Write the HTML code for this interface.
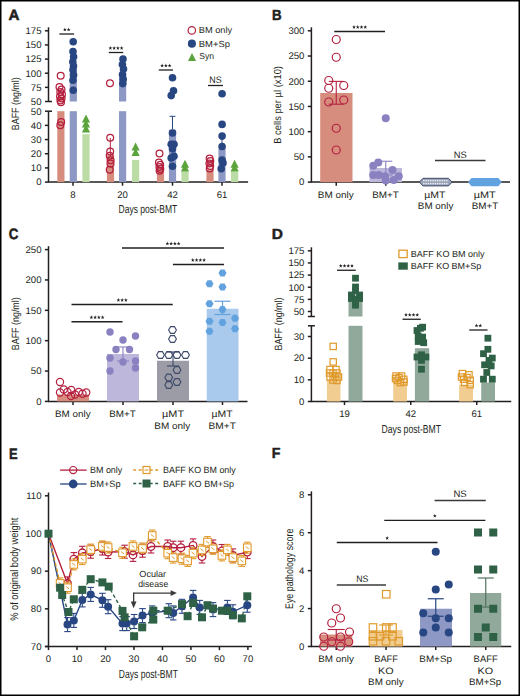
<!DOCTYPE html>
<html><head><meta charset="utf-8"><style>
html,body{margin:0;padding:0;background:#fff;}
body{width:520px;height:696px;overflow:hidden;}
svg{display:block;font-family:"Liberation Sans", sans-serif;text-rendering:geometricPrecision;}
.th{}
.bl{stroke:#231f20;stroke-width:0.5px;}
</style></head><body>
<svg width="520" height="696" viewBox="0 0 520 696">
<rect x="0" y="0" width="520" height="696" fill="#fff"/>
<text class="bl" x="8.42" y="20.20" font-size="14.8" fill="#231f20" font-weight="bold" textLength="10.98" lengthAdjust="spacingAndGlyphs">A</text>
<line x1="48.50" y1="27.30" x2="48.50" y2="101.50" stroke="#231f20" stroke-width="1.5"/>
<line x1="48.50" y1="111.20" x2="48.50" y2="182.10" stroke="#231f20" stroke-width="1.5"/>
<line x1="45.00" y1="101.50" x2="52.00" y2="101.50" stroke="#231f20" stroke-width="1.5"/>
<line x1="45.00" y1="111.20" x2="52.00" y2="111.20" stroke="#231f20" stroke-width="1.5"/>
<line x1="44.90" y1="30.80" x2="48.50" y2="30.80" stroke="#231f20" stroke-width="1.5"/>
<text class="th" x="41.50" y="34.10" font-size="9.6" text-anchor="end" fill="#231f20">175</text>
<line x1="44.90" y1="44.94" x2="48.50" y2="44.94" stroke="#231f20" stroke-width="1.5"/>
<text class="th" x="41.50" y="48.24" font-size="9.6" text-anchor="end" fill="#231f20">150</text>
<line x1="44.90" y1="59.08" x2="48.50" y2="59.08" stroke="#231f20" stroke-width="1.5"/>
<text class="th" x="41.50" y="62.38" font-size="9.6" text-anchor="end" fill="#231f20">125</text>
<line x1="44.90" y1="73.22" x2="48.50" y2="73.22" stroke="#231f20" stroke-width="1.5"/>
<text class="th" x="41.50" y="76.52" font-size="9.6" text-anchor="end" fill="#231f20">100</text>
<line x1="44.90" y1="87.36" x2="48.50" y2="87.36" stroke="#231f20" stroke-width="1.5"/>
<text class="th" x="41.50" y="90.66" font-size="9.6" text-anchor="end" fill="#231f20">75</text>
<line x1="48.50" y1="101.50" x2="48.50" y2="101.50" stroke="#231f20" stroke-width="1.5"/>
<text class="th" x="41.50" y="104.80" font-size="9.6" text-anchor="end" fill="#231f20">50</text>
<line x1="44.90" y1="125.38" x2="48.50" y2="125.38" stroke="#231f20" stroke-width="1.5"/>
<text class="th" x="41.50" y="128.68" font-size="9.6" text-anchor="end" fill="#231f20">40</text>
<line x1="44.90" y1="139.56" x2="48.50" y2="139.56" stroke="#231f20" stroke-width="1.5"/>
<text class="th" x="41.50" y="142.86" font-size="9.6" text-anchor="end" fill="#231f20">30</text>
<line x1="44.90" y1="153.74" x2="48.50" y2="153.74" stroke="#231f20" stroke-width="1.5"/>
<text class="th" x="41.50" y="157.04" font-size="9.6" text-anchor="end" fill="#231f20">20</text>
<line x1="44.90" y1="167.92" x2="48.50" y2="167.92" stroke="#231f20" stroke-width="1.5"/>
<text class="th" x="41.50" y="171.22" font-size="9.6" text-anchor="end" fill="#231f20">10</text>
<line x1="44.90" y1="182.10" x2="48.50" y2="182.10" stroke="#231f20" stroke-width="1.5"/>
<text class="th" x="41.50" y="185.40" font-size="9.6" text-anchor="end" fill="#231f20">0</text>
<line x1="48.50" y1="111.20" x2="48.50" y2="111.20" stroke="#231f20" stroke-width="1.5"/>
<text class="th" x="41.50" y="114.50" font-size="9.6" text-anchor="end" fill="#231f20">50</text>
<line x1="47.90" y1="182.10" x2="248.10" y2="182.10" stroke="#231f20" stroke-width="1.5"/>
<text class="th" x="19.20" y="130.23" font-size="10.5" fill="#231f20" textLength="52.98" lengthAdjust="spacingAndGlyphs" transform="rotate(-90 19.20 130.23)">BAFF (ng/ml)</text>
<line x1="73.00" y1="182.10" x2="73.00" y2="185.70" stroke="#231f20" stroke-width="1.5"/>
<text class="th" x="73.00" y="197.50" font-size="9.6" text-anchor="middle" fill="#231f20">8</text>
<line x1="122.50" y1="182.10" x2="122.50" y2="185.70" stroke="#231f20" stroke-width="1.5"/>
<text class="th" x="122.50" y="197.50" font-size="9.6" text-anchor="middle" fill="#231f20">20</text>
<line x1="172.50" y1="182.10" x2="172.50" y2="185.70" stroke="#231f20" stroke-width="1.5"/>
<text class="th" x="172.50" y="197.50" font-size="9.6" text-anchor="middle" fill="#231f20">42</text>
<line x1="222.00" y1="182.10" x2="222.00" y2="185.70" stroke="#231f20" stroke-width="1.5"/>
<text class="th" x="222.00" y="197.50" font-size="9.6" text-anchor="middle" fill="#231f20">61</text>
<text class="th" x="118.55" y="213.00" font-size="11.6" fill="#231f20" textLength="58.65" lengthAdjust="spacingAndGlyphs">Days post-BMT</text>
<rect x="57.30" y="96.98" width="7.20" height="4.52" fill="#d68d7e" stroke="none" stroke-width="1"/>
<rect x="57.30" y="111.20" width="7.20" height="70.90" fill="#d68d7e" stroke="none" stroke-width="1"/>
<rect x="69.70" y="70.39" width="7.20" height="31.11" fill="#8d98c4" stroke="none" stroke-width="1"/>
<rect x="69.70" y="111.20" width="7.20" height="70.90" fill="#8d98c4" stroke="none" stroke-width="1"/>
<rect x="82.40" y="134.17" width="7.20" height="47.93" fill="#bcdca6" stroke="none" stroke-width="1"/>
<rect x="106.90" y="155.16" width="7.20" height="26.94" fill="#d68d7e" stroke="none" stroke-width="1"/>
<rect x="119.00" y="73.22" width="7.20" height="28.28" fill="#8d98c4" stroke="none" stroke-width="1"/>
<rect x="119.00" y="111.20" width="7.20" height="70.90" fill="#8d98c4" stroke="none" stroke-width="1"/>
<rect x="132.00" y="159.98" width="7.20" height="22.12" fill="#bcdca6" stroke="none" stroke-width="1"/>
<rect x="156.90" y="167.92" width="7.20" height="14.18" fill="#d68d7e" stroke="none" stroke-width="1"/>
<rect x="168.90" y="129.63" width="7.20" height="52.47" fill="#8d98c4" stroke="none" stroke-width="1"/>
<rect x="181.40" y="171.47" width="7.20" height="10.63" fill="#bcdca6" stroke="none" stroke-width="1"/>
<rect x="206.40" y="169.34" width="7.20" height="12.76" fill="#d68d7e" stroke="none" stroke-width="1"/>
<rect x="218.40" y="148.78" width="7.20" height="33.32" fill="#8d98c4" stroke="none" stroke-width="1"/>
<rect x="231.00" y="171.47" width="7.20" height="10.63" fill="#bcdca6" stroke="none" stroke-width="1"/>
<line x1="172.50" y1="116.30" x2="172.50" y2="129.20" stroke="#284682" stroke-width="1.0"/>
<line x1="169.50" y1="116.30" x2="175.50" y2="116.30" stroke="#284682" stroke-width="1.0"/>
<line x1="110.30" y1="138.00" x2="110.30" y2="156.00" stroke="#b5203f" stroke-width="1.0"/>
<line x1="110.30" y1="138.00" x2="110.30" y2="138.00" stroke="#b5203f" stroke-width="1.0"/>
<line x1="222.00" y1="139.00" x2="222.00" y2="150.00" stroke="#284682" stroke-width="1.0"/>
<line x1="220.00" y1="139.00" x2="224.00" y2="139.00" stroke="#284682" stroke-width="1.0"/>
<circle cx="60.70" cy="75.80" r="3.4" fill="white" stroke="#b5203f" stroke-width="1.25"/>
<circle cx="59.50" cy="87.10" r="3.4" fill="none" stroke="#b5203f" stroke-width="1.25"/>
<circle cx="61.50" cy="89.50" r="3.4" fill="none" stroke="#b5203f" stroke-width="1.25"/>
<circle cx="60.30" cy="92.00" r="3.4" fill="none" stroke="#b5203f" stroke-width="1.25"/>
<circle cx="62.00" cy="94.50" r="3.4" fill="none" stroke="#b5203f" stroke-width="1.25"/>
<circle cx="60.00" cy="96.50" r="3.4" fill="none" stroke="#b5203f" stroke-width="1.25"/>
<circle cx="61.60" cy="98.50" r="3.4" fill="none" stroke="#b5203f" stroke-width="1.25"/>
<circle cx="60.40" cy="100.50" r="3.4" fill="none" stroke="#b5203f" stroke-width="1.25"/>
<circle cx="61.00" cy="102.30" r="3.4" fill="none" stroke="#b5203f" stroke-width="1.25"/>
<circle cx="61.20" cy="122.00" r="3.4" fill="none" stroke="#b5203f" stroke-width="1.25"/>
<circle cx="60.30" cy="125.30" r="3.4" fill="none" stroke="#b5203f" stroke-width="1.25"/>
<circle cx="73.20" cy="41.80" r="3.8" fill="#284682" stroke="none" stroke-width="1.1"/>
<circle cx="73.00" cy="51.60" r="3.8" fill="#284682" stroke="none" stroke-width="1.1"/>
<circle cx="73.60" cy="56.80" r="3.8" fill="#284682" stroke="none" stroke-width="1.1"/>
<circle cx="72.80" cy="61.70" r="3.8" fill="#284682" stroke="none" stroke-width="1.1"/>
<circle cx="73.50" cy="66.00" r="3.8" fill="#284682" stroke="none" stroke-width="1.1"/>
<circle cx="73.00" cy="69.80" r="3.8" fill="#284682" stroke="none" stroke-width="1.1"/>
<circle cx="73.60" cy="75.00" r="3.8" fill="#284682" stroke="none" stroke-width="1.1"/>
<circle cx="73.00" cy="80.20" r="3.8" fill="#284682" stroke="none" stroke-width="1.1"/>
<circle cx="73.20" cy="90.20" r="3.8" fill="#284682" stroke="none" stroke-width="1.1"/>
<polygon points="86.00,114.50 90.10,122.50 81.90,122.50" fill="#5ba43c"/>
<polygon points="86.00,119.50 90.10,127.50 81.90,127.50" fill="#5ba43c"/>
<polygon points="86.00,124.50 90.10,132.50 81.90,132.50" fill="#5ba43c"/>
<circle cx="110.00" cy="83.25" r="3.4" fill="none" stroke="#b5203f" stroke-width="1.25"/>
<circle cx="110.20" cy="137.70" r="3.4" fill="none" stroke="#b5203f" stroke-width="1.25"/>
<circle cx="110.20" cy="151.50" r="3.4" fill="none" stroke="#b5203f" stroke-width="1.25"/>
<circle cx="109.70" cy="155.80" r="3.4" fill="none" stroke="#b5203f" stroke-width="1.25"/>
<circle cx="110.60" cy="160.20" r="3.4" fill="none" stroke="#b5203f" stroke-width="1.25"/>
<circle cx="110.50" cy="163.60" r="3.4" fill="none" stroke="#b5203f" stroke-width="1.25"/>
<circle cx="109.70" cy="169.70" r="3.4" fill="none" stroke="#b5203f" stroke-width="1.25"/>
<circle cx="123.00" cy="59.00" r="3.8" fill="#284682" stroke="none" stroke-width="1.1"/>
<circle cx="122.40" cy="64.60" r="3.8" fill="#284682" stroke="none" stroke-width="1.1"/>
<circle cx="123.50" cy="69.00" r="3.8" fill="#284682" stroke="none" stroke-width="1.1"/>
<circle cx="122.50" cy="74.60" r="3.8" fill="#284682" stroke="none" stroke-width="1.1"/>
<circle cx="123.20" cy="79.30" r="3.8" fill="#284682" stroke="none" stroke-width="1.1"/>
<circle cx="122.80" cy="83.60" r="3.8" fill="#284682" stroke="none" stroke-width="1.1"/>
<polygon points="135.60,142.50 139.70,150.50 131.50,150.50" fill="#5ba43c"/>
<polygon points="135.60,148.00 139.70,156.00 131.50,156.00" fill="#5ba43c"/>
<circle cx="159.50" cy="153.50" r="3.4" fill="none" stroke="#b5203f" stroke-width="1.25"/>
<circle cx="158.90" cy="162.50" r="3.4" fill="none" stroke="#b5203f" stroke-width="1.25"/>
<circle cx="160.20" cy="164.80" r="3.4" fill="none" stroke="#b5203f" stroke-width="1.25"/>
<circle cx="159.40" cy="167.00" r="3.4" fill="none" stroke="#b5203f" stroke-width="1.25"/>
<circle cx="160.30" cy="169.00" r="3.4" fill="none" stroke="#b5203f" stroke-width="1.25"/>
<circle cx="159.60" cy="170.80" r="3.4" fill="none" stroke="#b5203f" stroke-width="1.25"/>
<circle cx="172.50" cy="77.70" r="3.8" fill="#284682" stroke="none" stroke-width="1.1"/>
<circle cx="173.50" cy="90.80" r="3.8" fill="#284682" stroke="none" stroke-width="1.1"/>
<circle cx="171.20" cy="95.60" r="3.8" fill="#284682" stroke="none" stroke-width="1.1"/>
<circle cx="172.50" cy="133.00" r="3.8" fill="#284682" stroke="none" stroke-width="1.1"/>
<circle cx="171.20" cy="144.20" r="3.8" fill="#284682" stroke="none" stroke-width="1.1"/>
<circle cx="174.00" cy="144.20" r="3.8" fill="#284682" stroke="none" stroke-width="1.1"/>
<circle cx="172.50" cy="148.80" r="3.8" fill="#284682" stroke="none" stroke-width="1.1"/>
<circle cx="171.20" cy="158.00" r="3.8" fill="#284682" stroke="none" stroke-width="1.1"/>
<circle cx="174.00" cy="156.20" r="3.8" fill="#284682" stroke="none" stroke-width="1.1"/>
<circle cx="172.50" cy="166.20" r="3.8" fill="#284682" stroke="none" stroke-width="1.1"/>
<polygon points="185.00,159.80 189.10,167.80 180.90,167.80" fill="#5ba43c"/>
<polygon points="185.00,163.50 189.10,171.50 180.90,171.50" fill="#5ba43c"/>
<circle cx="209.60" cy="158.50" r="3.4" fill="none" stroke="#b5203f" stroke-width="1.25"/>
<circle cx="210.30" cy="161.00" r="3.4" fill="none" stroke="#b5203f" stroke-width="1.25"/>
<circle cx="209.40" cy="163.50" r="3.4" fill="none" stroke="#b5203f" stroke-width="1.25"/>
<circle cx="210.20" cy="166.00" r="3.4" fill="none" stroke="#b5203f" stroke-width="1.25"/>
<circle cx="209.70" cy="168.50" r="3.4" fill="none" stroke="#b5203f" stroke-width="1.25"/>
<circle cx="222.10" cy="93.70" r="3.8" fill="#284682" stroke="none" stroke-width="1.1"/>
<circle cx="222.10" cy="124.40" r="3.8" fill="#284682" stroke="none" stroke-width="1.1"/>
<circle cx="222.10" cy="136.00" r="3.8" fill="#284682" stroke="none" stroke-width="1.1"/>
<circle cx="222.10" cy="146.50" r="3.8" fill="#284682" stroke="none" stroke-width="1.1"/>
<circle cx="222.10" cy="160.00" r="3.8" fill="#284682" stroke="none" stroke-width="1.1"/>
<circle cx="223.00" cy="162.90" r="3.8" fill="#284682" stroke="none" stroke-width="1.1"/>
<circle cx="221.20" cy="168.70" r="3.8" fill="#284682" stroke="none" stroke-width="1.1"/>
<polygon points="234.60,159.80 238.70,167.80 230.50,167.80" fill="#5ba43c"/>
<polygon points="234.60,163.50 238.70,171.50 230.50,171.50" fill="#5ba43c"/>
<line x1="59.40" y1="34.00" x2="74.10" y2="34.00" stroke="#231f20" stroke-width="1.3"/>
<polygon points="64.88,27.60 65.37,28.92 66.78,28.98 65.67,29.86 66.05,31.22 64.88,30.44 63.70,31.22 64.08,29.86 62.97,28.98 64.38,28.92" fill="#231f20"/>
<polygon points="68.62,27.60 69.12,28.92 70.53,28.98 69.42,29.86 69.80,31.22 68.62,30.44 67.45,31.22 67.83,29.86 66.72,28.98 68.13,28.92" fill="#231f20"/>
<line x1="108.75" y1="52.50" x2="123.25" y2="52.50" stroke="#231f20" stroke-width="1.3"/>
<polygon points="110.38,46.10 110.87,47.42 112.28,47.48 111.17,48.36 111.55,49.72 110.38,48.94 109.20,49.72 109.58,48.36 108.47,47.48 109.88,47.42" fill="#231f20"/>
<polygon points="114.12,46.10 114.62,47.42 116.03,47.48 114.92,48.36 115.30,49.72 114.12,48.94 112.95,49.72 113.33,48.36 112.22,47.48 113.63,47.42" fill="#231f20"/>
<polygon points="117.88,46.10 118.37,47.42 119.78,47.48 118.67,48.36 119.05,49.72 117.88,48.94 116.70,49.72 117.08,48.36 115.97,47.48 117.38,47.42" fill="#231f20"/>
<polygon points="121.62,46.10 122.12,47.42 123.53,47.48 122.42,48.36 122.80,49.72 121.62,48.94 120.45,49.72 120.83,48.36 119.72,47.48 121.13,47.42" fill="#231f20"/>
<line x1="158.75" y1="70.00" x2="173.00" y2="70.00" stroke="#231f20" stroke-width="1.3"/>
<polygon points="162.12,63.60 162.62,64.92 164.03,64.98 162.92,65.86 163.30,67.22 162.12,66.44 160.95,67.22 161.33,65.86 160.22,64.98 161.63,64.92" fill="#231f20"/>
<polygon points="165.88,63.60 166.37,64.92 167.78,64.98 166.67,65.86 167.05,67.22 165.88,66.44 164.70,67.22 165.08,65.86 163.97,64.98 165.38,64.92" fill="#231f20"/>
<polygon points="169.62,63.60 170.12,64.92 171.53,64.98 170.42,65.86 170.80,67.22 169.62,66.44 168.45,67.22 168.83,65.86 167.72,64.98 169.13,64.92" fill="#231f20"/>
<line x1="208.00" y1="85.50" x2="223.00" y2="85.50" stroke="#231f20" stroke-width="1.3"/>
<text class="th" x="209.27" y="83.00" font-size="9.4" fill="#231f20" textLength="12.39" lengthAdjust="spacingAndGlyphs">NS</text>
<circle cx="191.80" cy="30.40" r="3.7" fill="none" stroke="#b5203f" stroke-width="1.2"/>
<text class="th" x="198.84" y="33.00" font-size="8.8" fill="#231f20" textLength="33.28" lengthAdjust="spacingAndGlyphs">BM only</text>
<circle cx="191.90" cy="43.65" r="4.05" fill="#284682" stroke="none" stroke-width="1.1"/>
<text class="th" x="198.83" y="46.50" font-size="8.8" fill="#231f20" textLength="31.17" lengthAdjust="spacingAndGlyphs">BM+Sp</text>
<polygon points="192,52.9 196.1,61 188,61" fill="#5ba43c"/>
<text class="th" x="199.21" y="59.20" font-size="8.8" fill="#231f20" textLength="14.75" lengthAdjust="spacingAndGlyphs">Syn</text>
<text class="bl" x="271.91" y="19.90" font-size="14.7" fill="#231f20" font-weight="bold" textLength="9.59" lengthAdjust="spacingAndGlyphs">B</text>
<line x1="311.40" y1="27.30" x2="311.40" y2="182.10" stroke="#231f20" stroke-width="1.5"/>
<line x1="307.80" y1="30.80" x2="311.40" y2="30.80" stroke="#231f20" stroke-width="1.5"/>
<text class="th" x="304.40" y="34.10" font-size="9.6" text-anchor="end" fill="#231f20">300</text>
<line x1="307.80" y1="56.02" x2="311.40" y2="56.02" stroke="#231f20" stroke-width="1.5"/>
<text class="th" x="304.40" y="59.32" font-size="9.6" text-anchor="end" fill="#231f20">250</text>
<line x1="307.80" y1="81.23" x2="311.40" y2="81.23" stroke="#231f20" stroke-width="1.5"/>
<text class="th" x="304.40" y="84.54" font-size="9.6" text-anchor="end" fill="#231f20">200</text>
<line x1="307.80" y1="106.45" x2="311.40" y2="106.45" stroke="#231f20" stroke-width="1.5"/>
<text class="th" x="304.40" y="109.75" font-size="9.6" text-anchor="end" fill="#231f20">150</text>
<line x1="307.80" y1="131.67" x2="311.40" y2="131.67" stroke="#231f20" stroke-width="1.5"/>
<text class="th" x="304.40" y="134.97" font-size="9.6" text-anchor="end" fill="#231f20">100</text>
<line x1="307.80" y1="156.88" x2="311.40" y2="156.88" stroke="#231f20" stroke-width="1.5"/>
<text class="th" x="304.40" y="160.19" font-size="9.6" text-anchor="end" fill="#231f20">50</text>
<line x1="307.80" y1="182.10" x2="311.40" y2="182.10" stroke="#231f20" stroke-width="1.5"/>
<text class="th" x="304.40" y="185.40" font-size="9.6" text-anchor="end" fill="#231f20">0</text>
<line x1="310.80" y1="182.10" x2="510.00" y2="182.10" stroke="#231f20" stroke-width="1.5"/>
<text class="th" x="281.50" y="143.77" font-size="10.2" fill="#231f20" textLength="77.75" lengthAdjust="spacingAndGlyphs" transform="rotate(-90 281.50 143.77)">B cells per µl (x10)</text>
<line x1="336.25" y1="182.10" x2="336.25" y2="185.70" stroke="#231f20" stroke-width="1.5"/>
<line x1="385.75" y1="182.10" x2="385.75" y2="185.70" stroke="#231f20" stroke-width="1.5"/>
<line x1="435.50" y1="182.10" x2="435.50" y2="185.70" stroke="#231f20" stroke-width="1.5"/>
<line x1="485.25" y1="182.10" x2="485.25" y2="185.70" stroke="#231f20" stroke-width="1.5"/>
<text class="th" x="317.88" y="197.80" font-size="9.3" fill="#231f20" textLength="35.94" lengthAdjust="spacingAndGlyphs">BM only</text>
<text class="th" x="372.29" y="197.80" font-size="9.3" fill="#231f20" textLength="26.64" lengthAdjust="spacingAndGlyphs">BM+T</text>
<text class="th" x="424.29" y="197.80" font-size="9.3" fill="#231f20" textLength="21.15" lengthAdjust="spacingAndGlyphs">µMT</text>
<text class="th" x="417.89" y="209.10" font-size="9.3" fill="#231f20" textLength="35.53" lengthAdjust="spacingAndGlyphs">BM only</text>
<text class="th" x="473.66" y="197.80" font-size="9.3" fill="#231f20" textLength="21.99" lengthAdjust="spacingAndGlyphs">µMT</text>
<text class="th" x="471.79" y="209.10" font-size="9.3" fill="#231f20" textLength="26.64" lengthAdjust="spacingAndGlyphs">BM+T</text>
<rect x="320.20" y="93.00" width="32.30" height="89.10" fill="#d68d7e" stroke="none" stroke-width="1"/>
<line x1="336.25" y1="81.40" x2="336.25" y2="104.20" stroke="#b5203f" stroke-width="1.1"/>
<line x1="328.75" y1="81.40" x2="343.75" y2="81.40" stroke="#b5203f" stroke-width="1.1"/>
<line x1="328.75" y1="104.20" x2="343.75" y2="104.20" stroke="#b5203f" stroke-width="1.1"/>
<circle cx="336.25" cy="39.50" r="4.0" fill="none" stroke="#b5203f" stroke-width="1.2"/>
<circle cx="336.25" cy="57.25" r="4.0" fill="none" stroke="#b5203f" stroke-width="1.2"/>
<circle cx="328.75" cy="80.50" r="4.0" fill="none" stroke="#b5203f" stroke-width="1.2"/>
<circle cx="328.75" cy="88.25" r="4.0" fill="none" stroke="#b5203f" stroke-width="1.2"/>
<circle cx="343.75" cy="85.50" r="4.0" fill="none" stroke="#b5203f" stroke-width="1.2"/>
<circle cx="328.75" cy="102.00" r="4.0" fill="none" stroke="#b5203f" stroke-width="1.2"/>
<circle cx="343.75" cy="100.00" r="4.0" fill="none" stroke="#b5203f" stroke-width="1.2"/>
<circle cx="336.25" cy="128.25" r="4.0" fill="none" stroke="#b5203f" stroke-width="1.2"/>
<circle cx="336.25" cy="150.00" r="4.0" fill="none" stroke="#b5203f" stroke-width="1.2"/>
<rect x="369.50" y="168.00" width="32.50" height="14.10" fill="#bcb7db" stroke="none" stroke-width="1"/>
<line x1="385.75" y1="161.25" x2="385.75" y2="175.00" stroke="#8a81c1" stroke-width="1.1"/>
<line x1="379.25" y1="161.25" x2="392.25" y2="161.25" stroke="#8a81c1" stroke-width="1.1"/>
<line x1="379.25" y1="175.00" x2="392.25" y2="175.00" stroke="#8a81c1" stroke-width="1.1"/>
<circle cx="385.75" cy="118.25" r="4.0" fill="#8a81c1" stroke="none" stroke-width="1.1"/>
<circle cx="373.25" cy="165.75" r="4.0" fill="#8a81c1" stroke="none" stroke-width="1.1"/>
<circle cx="378.25" cy="162.50" r="4.0" fill="#8a81c1" stroke="none" stroke-width="1.1"/>
<circle cx="373.25" cy="175.00" r="4.0" fill="#8a81c1" stroke="none" stroke-width="1.1"/>
<circle cx="378.75" cy="175.00" r="4.0" fill="#8a81c1" stroke="none" stroke-width="1.1"/>
<circle cx="385.00" cy="176.25" r="4.0" fill="#8a81c1" stroke="none" stroke-width="1.1"/>
<circle cx="392.50" cy="170.00" r="4.0" fill="#8a81c1" stroke="none" stroke-width="1.1"/>
<circle cx="393.75" cy="180.00" r="4.0" fill="#8a81c1" stroke="none" stroke-width="1.1"/>
<circle cx="398.75" cy="176.25" r="4.0" fill="#8a81c1" stroke="none" stroke-width="1.1"/>
<circle cx="385.75" cy="180.50" r="4.0" fill="#8a81c1" stroke="none" stroke-width="1.1"/>
<polygon points="419.3,182.1 423,178.3 448.5,178.3 452.1,182.1 448.5,185.9 423,185.9" fill="#9aa2b8" stroke="#3e4a6a" stroke-width="1.0"/>
<rect x="423.20" y="179.90" width="1.30" height="1.40" fill="#f4f5f8" stroke="none" stroke-width="1"/>
<rect x="423.20" y="182.90" width="1.30" height="1.40" fill="#f4f5f8" stroke="none" stroke-width="1"/>
<rect x="425.50" y="179.90" width="1.30" height="1.40" fill="#f4f5f8" stroke="none" stroke-width="1"/>
<rect x="425.50" y="182.90" width="1.30" height="1.40" fill="#f4f5f8" stroke="none" stroke-width="1"/>
<rect x="427.80" y="179.90" width="1.30" height="1.40" fill="#f4f5f8" stroke="none" stroke-width="1"/>
<rect x="427.80" y="182.90" width="1.30" height="1.40" fill="#f4f5f8" stroke="none" stroke-width="1"/>
<rect x="430.10" y="179.90" width="1.30" height="1.40" fill="#f4f5f8" stroke="none" stroke-width="1"/>
<rect x="430.10" y="182.90" width="1.30" height="1.40" fill="#f4f5f8" stroke="none" stroke-width="1"/>
<rect x="432.40" y="179.90" width="1.30" height="1.40" fill="#f4f5f8" stroke="none" stroke-width="1"/>
<rect x="432.40" y="182.90" width="1.30" height="1.40" fill="#f4f5f8" stroke="none" stroke-width="1"/>
<rect x="434.70" y="179.90" width="1.30" height="1.40" fill="#f4f5f8" stroke="none" stroke-width="1"/>
<rect x="434.70" y="182.90" width="1.30" height="1.40" fill="#f4f5f8" stroke="none" stroke-width="1"/>
<rect x="437.00" y="179.90" width="1.30" height="1.40" fill="#f4f5f8" stroke="none" stroke-width="1"/>
<rect x="437.00" y="182.90" width="1.30" height="1.40" fill="#f4f5f8" stroke="none" stroke-width="1"/>
<rect x="439.30" y="179.90" width="1.30" height="1.40" fill="#f4f5f8" stroke="none" stroke-width="1"/>
<rect x="439.30" y="182.90" width="1.30" height="1.40" fill="#f4f5f8" stroke="none" stroke-width="1"/>
<rect x="441.60" y="179.90" width="1.30" height="1.40" fill="#f4f5f8" stroke="none" stroke-width="1"/>
<rect x="441.60" y="182.90" width="1.30" height="1.40" fill="#f4f5f8" stroke="none" stroke-width="1"/>
<rect x="443.90" y="179.90" width="1.30" height="1.40" fill="#f4f5f8" stroke="none" stroke-width="1"/>
<rect x="443.90" y="182.90" width="1.30" height="1.40" fill="#f4f5f8" stroke="none" stroke-width="1"/>
<rect x="446.20" y="179.90" width="1.30" height="1.40" fill="#f4f5f8" stroke="none" stroke-width="1"/>
<rect x="446.20" y="182.90" width="1.30" height="1.40" fill="#f4f5f8" stroke="none" stroke-width="1"/>
<polygon points="468,182.1 471.5,178 498.3,178 501.8,182.1 498.3,186.2 471.5,186.2" fill="#62a2de"/>
<line x1="435.00" y1="160.50" x2="485.50" y2="160.50" stroke="#3a3a3a" stroke-width="1.3"/>
<text class="th" x="453.74" y="158.00" font-size="9.4" fill="#231f20" textLength="12.94" lengthAdjust="spacingAndGlyphs">NS</text>
<line x1="334.25" y1="31.50" x2="385.00" y2="31.50" stroke="#231f20" stroke-width="1.3"/>
<polygon points="354.00,25.10 354.49,26.42 355.90,26.48 354.80,27.36 355.18,28.72 354.00,27.94 352.82,28.72 353.20,27.36 352.10,26.48 353.51,26.42" fill="#231f20"/>
<polygon points="357.75,25.10 358.24,26.42 359.65,26.48 358.55,27.36 358.93,28.72 357.75,27.94 356.57,28.72 356.95,27.36 355.85,26.48 357.26,26.42" fill="#231f20"/>
<polygon points="361.50,25.10 361.99,26.42 363.40,26.48 362.30,27.36 362.68,28.72 361.50,27.94 360.32,28.72 360.70,27.36 359.60,26.48 361.01,26.42" fill="#231f20"/>
<polygon points="365.25,25.10 365.74,26.42 367.15,26.48 366.05,27.36 366.43,28.72 365.25,27.94 364.07,28.72 364.45,27.36 363.35,26.48 364.76,26.42" fill="#231f20"/>
<text class="bl" x="8.65" y="239.45" font-size="15.1" fill="#231f20" font-weight="bold" textLength="9.61" lengthAdjust="spacingAndGlyphs">C</text>
<line x1="48.50" y1="246.20" x2="48.50" y2="401.40" stroke="#231f20" stroke-width="1.5"/>
<line x1="44.90" y1="249.60" x2="48.50" y2="249.60" stroke="#231f20" stroke-width="1.5"/>
<text class="th" x="41.50" y="252.90" font-size="9.6" text-anchor="end" fill="#231f20">250</text>
<line x1="44.90" y1="279.96" x2="48.50" y2="279.96" stroke="#231f20" stroke-width="1.5"/>
<text class="th" x="41.50" y="283.26" font-size="9.6" text-anchor="end" fill="#231f20">200</text>
<line x1="44.90" y1="310.32" x2="48.50" y2="310.32" stroke="#231f20" stroke-width="1.5"/>
<text class="th" x="41.50" y="313.62" font-size="9.6" text-anchor="end" fill="#231f20">150</text>
<line x1="44.90" y1="340.68" x2="48.50" y2="340.68" stroke="#231f20" stroke-width="1.5"/>
<text class="th" x="41.50" y="343.98" font-size="9.6" text-anchor="end" fill="#231f20">100</text>
<line x1="44.90" y1="371.04" x2="48.50" y2="371.04" stroke="#231f20" stroke-width="1.5"/>
<text class="th" x="41.50" y="374.34" font-size="9.6" text-anchor="end" fill="#231f20">50</text>
<line x1="44.90" y1="401.40" x2="48.50" y2="401.40" stroke="#231f20" stroke-width="1.5"/>
<text class="th" x="41.50" y="404.70" font-size="9.6" text-anchor="end" fill="#231f20">0</text>
<line x1="47.90" y1="401.40" x2="247.50" y2="401.40" stroke="#231f20" stroke-width="1.5"/>
<text class="th" x="19.20" y="350.23" font-size="10.5" fill="#231f20" textLength="52.98" lengthAdjust="spacingAndGlyphs" transform="rotate(-90 19.20 350.23)">BAFF (ng/ml)</text>
<line x1="73.00" y1="401.40" x2="73.00" y2="405.00" stroke="#231f20" stroke-width="1.5"/>
<line x1="123.00" y1="401.40" x2="123.00" y2="405.00" stroke="#231f20" stroke-width="1.5"/>
<line x1="173.00" y1="401.40" x2="173.00" y2="405.00" stroke="#231f20" stroke-width="1.5"/>
<line x1="222.50" y1="401.40" x2="222.50" y2="405.00" stroke="#231f20" stroke-width="1.5"/>
<text class="th" x="55.04" y="417.20" font-size="9.3" fill="#231f20" textLength="35.58" lengthAdjust="spacingAndGlyphs">BM only</text>
<text class="th" x="109.19" y="417.20" font-size="9.3" fill="#231f20" textLength="26.64" lengthAdjust="spacingAndGlyphs">BM+T</text>
<text class="th" x="162.06" y="417.20" font-size="9.3" fill="#231f20" textLength="21.99" lengthAdjust="spacingAndGlyphs">µMT</text>
<text class="th" x="154.28" y="428.80" font-size="9.3" fill="#231f20" textLength="35.94" lengthAdjust="spacingAndGlyphs">BM only</text>
<text class="th" x="211.49" y="417.20" font-size="9.3" fill="#231f20" textLength="21.05" lengthAdjust="spacingAndGlyphs">µMT</text>
<text class="th" x="208.57" y="428.80" font-size="9.3" fill="#231f20" textLength="27.26" lengthAdjust="spacingAndGlyphs">BM+T</text>
<rect x="57.00" y="394.50" width="32.00" height="6.90" fill="#d68d7e" stroke="none" stroke-width="1"/>
<circle cx="60.00" cy="382.00" r="3.6" fill="none" stroke="#b5203f" stroke-width="1.2"/>
<circle cx="63.75" cy="389.50" r="3.6" fill="none" stroke="#b5203f" stroke-width="1.2"/>
<circle cx="60.00" cy="392.50" r="3.6" fill="none" stroke="#b5203f" stroke-width="1.2"/>
<circle cx="67.50" cy="392.00" r="3.6" fill="none" stroke="#b5203f" stroke-width="1.2"/>
<circle cx="71.25" cy="390.00" r="3.6" fill="none" stroke="#b5203f" stroke-width="1.2"/>
<circle cx="75.00" cy="394.50" r="3.6" fill="none" stroke="#b5203f" stroke-width="1.2"/>
<circle cx="78.75" cy="392.00" r="3.6" fill="none" stroke="#b5203f" stroke-width="1.2"/>
<circle cx="82.50" cy="393.75" r="3.6" fill="none" stroke="#b5203f" stroke-width="1.2"/>
<circle cx="86.25" cy="392.50" r="3.6" fill="none" stroke="#b5203f" stroke-width="1.2"/>
<circle cx="71.00" cy="396.00" r="3.6" fill="none" stroke="#b5203f" stroke-width="1.2"/>
<rect x="107.00" y="354.00" width="32.00" height="47.40" fill="#bcb7db" stroke="none" stroke-width="1"/>
<line x1="123.00" y1="347.00" x2="123.00" y2="361.00" stroke="#8a81c1" stroke-width="1.1"/>
<line x1="117.00" y1="347.00" x2="129.00" y2="347.00" stroke="#8a81c1" stroke-width="1.1"/>
<line x1="117.00" y1="361.00" x2="129.00" y2="361.00" stroke="#8a81c1" stroke-width="1.1"/>
<circle cx="110.00" cy="332.00" r="3.7" fill="#8a81c1" stroke="none" stroke-width="1.1"/>
<circle cx="135.50" cy="336.00" r="3.7" fill="#8a81c1" stroke="none" stroke-width="1.1"/>
<circle cx="123.00" cy="340.00" r="3.7" fill="#8a81c1" stroke="none" stroke-width="1.1"/>
<circle cx="116.00" cy="349.50" r="3.7" fill="#8a81c1" stroke="none" stroke-width="1.1"/>
<circle cx="129.50" cy="349.50" r="3.7" fill="#8a81c1" stroke="none" stroke-width="1.1"/>
<circle cx="110.00" cy="358.00" r="3.7" fill="#8a81c1" stroke="none" stroke-width="1.1"/>
<circle cx="123.00" cy="362.00" r="3.7" fill="#8a81c1" stroke="none" stroke-width="1.1"/>
<circle cx="135.50" cy="361.00" r="3.7" fill="#8a81c1" stroke="none" stroke-width="1.1"/>
<circle cx="110.00" cy="371.00" r="3.7" fill="#8a81c1" stroke="none" stroke-width="1.1"/>
<circle cx="135.50" cy="368.00" r="3.7" fill="#8a81c1" stroke="none" stroke-width="1.1"/>
<rect x="157.00" y="360.75" width="32.00" height="40.65" fill="#9c9ca6" stroke="none" stroke-width="1"/>
<line x1="173.00" y1="352.00" x2="173.00" y2="366.00" stroke="#3e4a6a" stroke-width="1.1"/>
<line x1="167.00" y1="352.00" x2="179.00" y2="352.00" stroke="#3e4a6a" stroke-width="1.1"/>
<line x1="167.00" y1="366.00" x2="179.00" y2="366.00" stroke="#3e4a6a" stroke-width="1.1"/>
<polygon points="176.40,330.00 174.45,333.38 170.55,333.38 168.60,330.00 170.55,326.62 174.45,326.62" fill="none" stroke="#3e4a6a" stroke-width="1.1"/>
<polygon points="176.40,339.00 174.45,342.38 170.55,342.38 168.60,339.00 170.55,335.62 174.45,335.62" fill="none" stroke="#3e4a6a" stroke-width="1.1"/>
<polygon points="164.40,355.00 162.45,358.38 158.55,358.38 156.60,355.00 158.55,351.62 162.45,351.62" fill="none" stroke="#3e4a6a" stroke-width="1.1"/>
<polygon points="172.65,355.00 170.70,358.38 166.80,358.38 164.85,355.00 166.80,351.62 170.70,351.62" fill="none" stroke="#3e4a6a" stroke-width="1.1"/>
<polygon points="180.90,355.00 178.95,358.38 175.05,358.38 173.10,355.00 175.05,351.62 178.95,351.62" fill="none" stroke="#3e4a6a" stroke-width="1.1"/>
<polygon points="189.40,355.00 187.45,358.38 183.55,358.38 181.60,355.00 183.55,351.62 187.45,351.62" fill="none" stroke="#3e4a6a" stroke-width="1.1"/>
<polygon points="180.90,370.00 178.95,373.38 175.05,373.38 173.10,370.00 175.05,366.62 178.95,366.62" fill="none" stroke="#3e4a6a" stroke-width="1.1"/>
<polygon points="172.65,377.50 170.70,380.88 166.80,380.88 164.85,377.50 166.80,374.12 170.70,374.12" fill="none" stroke="#3e4a6a" stroke-width="1.1"/>
<polygon points="172.65,385.00 170.70,388.38 166.80,388.38 164.85,385.00 166.80,381.62 170.70,381.62" fill="none" stroke="#3e4a6a" stroke-width="1.1"/>
<polygon points="180.90,382.00 178.95,385.38 175.05,385.38 173.10,382.00 175.05,378.62 178.95,378.62" fill="none" stroke="#3e4a6a" stroke-width="1.1"/>
<rect x="206.75" y="308.75" width="31.75" height="92.65" fill="#a9caec" stroke="none" stroke-width="1"/>
<line x1="222.50" y1="301.25" x2="222.50" y2="314.50" stroke="#62a2de" stroke-width="1.2"/>
<line x1="214.50" y1="301.25" x2="230.50" y2="301.25" stroke="#62a2de" stroke-width="1.2"/>
<line x1="214.50" y1="314.50" x2="230.50" y2="314.50" stroke="#62a2de" stroke-width="1.2"/>
<polygon points="226.50,273.00 224.50,276.46 220.50,276.46 218.50,273.00 220.50,269.54 224.50,269.54" fill="#62a2de" stroke="none" stroke-width="1"/>
<polygon points="213.50,283.75 211.50,287.21 207.50,287.21 205.50,283.75 207.50,280.29 211.50,280.29" fill="#62a2de" stroke="none" stroke-width="1"/>
<polygon points="226.50,287.00 224.50,290.46 220.50,290.46 218.50,287.00 220.50,283.54 224.50,283.54" fill="#62a2de" stroke="none" stroke-width="1"/>
<polygon points="213.50,303.75 211.50,307.21 207.50,307.21 205.50,303.75 207.50,300.29 211.50,300.29" fill="#62a2de" stroke="none" stroke-width="1"/>
<polygon points="226.50,309.50 224.50,312.96 220.50,312.96 218.50,309.50 220.50,306.04 224.50,306.04" fill="#62a2de" stroke="none" stroke-width="1"/>
<polygon points="213.50,321.25 211.50,324.71 207.50,324.71 205.50,321.25 207.50,317.79 211.50,317.79" fill="#62a2de" stroke="none" stroke-width="1"/>
<polygon points="226.50,322.50 224.50,325.96 220.50,325.96 218.50,322.50 220.50,319.04 224.50,319.04" fill="#62a2de" stroke="none" stroke-width="1"/>
<polygon points="239.00,318.25 237.00,321.71 233.00,321.71 231.00,318.25 233.00,314.79 237.00,314.79" fill="#62a2de" stroke="none" stroke-width="1"/>
<polygon points="239.00,328.75 237.00,332.21 233.00,332.21 231.00,328.75 233.00,325.29 237.00,325.29" fill="#62a2de" stroke="none" stroke-width="1"/>
<polygon points="213.50,331.25 211.50,334.71 207.50,334.71 205.50,331.25 207.50,327.79 211.50,327.79" fill="#62a2de" stroke="none" stroke-width="1"/>
<line x1="122.00" y1="248.00" x2="224.00" y2="248.00" stroke="#231f20" stroke-width="1.3"/>
<polygon points="167.38,241.60 167.87,242.92 169.28,242.98 168.17,243.86 168.55,245.22 167.38,244.44 166.20,245.22 166.58,243.86 165.47,242.98 166.88,242.92" fill="#231f20"/>
<polygon points="171.12,241.60 171.62,242.92 173.03,242.98 171.92,243.86 172.30,245.22 171.12,244.44 169.95,245.22 170.33,243.86 169.22,242.98 170.63,242.92" fill="#231f20"/>
<polygon points="174.88,241.60 175.37,242.92 176.78,242.98 175.67,243.86 176.05,245.22 174.88,244.44 173.70,245.22 174.08,243.86 172.97,242.98 174.38,242.92" fill="#231f20"/>
<polygon points="178.62,241.60 179.12,242.92 180.53,242.98 179.42,243.86 179.80,245.22 178.62,244.44 177.45,245.22 177.83,243.86 176.72,242.98 178.13,242.92" fill="#231f20"/>
<line x1="172.90" y1="264.50" x2="224.00" y2="264.50" stroke="#231f20" stroke-width="1.3"/>
<polygon points="192.82,258.10 193.32,259.42 194.73,259.48 193.62,260.36 194.00,261.72 192.82,260.94 191.65,261.72 192.03,260.36 190.92,259.48 192.33,259.42" fill="#231f20"/>
<polygon points="196.57,258.10 197.07,259.42 198.48,259.48 197.37,260.36 197.75,261.72 196.57,260.94 195.40,261.72 195.78,260.36 194.67,259.48 196.08,259.42" fill="#231f20"/>
<polygon points="200.32,258.10 200.82,259.42 202.23,259.48 201.12,260.36 201.50,261.72 200.32,260.94 199.15,261.72 199.53,260.36 198.42,259.48 199.83,259.42" fill="#231f20"/>
<polygon points="204.07,258.10 204.57,259.42 205.98,259.48 204.87,260.36 205.25,261.72 204.07,260.94 202.90,261.72 203.28,260.36 202.17,259.48 203.58,259.42" fill="#231f20"/>
<line x1="71.50" y1="304.50" x2="172.75" y2="304.50" stroke="#231f20" stroke-width="1.3"/>
<polygon points="118.38,298.10 118.87,299.42 120.28,299.48 119.17,300.36 119.55,301.72 118.38,300.94 117.20,301.72 117.58,300.36 116.47,299.48 117.88,299.42" fill="#231f20"/>
<polygon points="122.12,298.10 122.62,299.42 124.03,299.48 122.92,300.36 123.30,301.72 122.12,300.94 120.95,301.72 121.33,300.36 120.22,299.48 121.63,299.42" fill="#231f20"/>
<polygon points="125.88,298.10 126.37,299.42 127.78,299.48 126.67,300.36 127.05,301.72 125.88,300.94 124.70,301.72 125.08,300.36 123.97,299.48 125.38,299.42" fill="#231f20"/>
<line x1="71.50" y1="321.75" x2="122.50" y2="321.75" stroke="#231f20" stroke-width="1.3"/>
<polygon points="91.38,315.35 91.87,316.67 93.28,316.73 92.17,317.61 92.55,318.97 91.38,318.19 90.20,318.97 90.58,317.61 89.47,316.73 90.88,316.67" fill="#231f20"/>
<polygon points="95.12,315.35 95.62,316.67 97.03,316.73 95.92,317.61 96.30,318.97 95.12,318.19 93.95,318.97 94.33,317.61 93.22,316.73 94.63,316.67" fill="#231f20"/>
<polygon points="98.88,315.35 99.37,316.67 100.78,316.73 99.67,317.61 100.05,318.97 98.88,318.19 97.70,318.97 98.08,317.61 96.97,316.73 98.38,316.67" fill="#231f20"/>
<polygon points="102.62,315.35 103.12,316.67 104.53,316.73 103.42,317.61 103.80,318.97 102.62,318.19 101.45,318.97 101.83,317.61 100.72,316.73 102.13,316.67" fill="#231f20"/>
<text class="bl" x="271.76" y="239.30" font-size="14.7" fill="#231f20" font-weight="bold" textLength="11.19" lengthAdjust="spacingAndGlyphs">D</text>
<line x1="311.40" y1="247.30" x2="311.40" y2="316.50" stroke="#231f20" stroke-width="1.5"/>
<line x1="307.90" y1="316.50" x2="314.90" y2="316.50" stroke="#231f20" stroke-width="1.5"/>
<line x1="307.80" y1="250.80" x2="311.40" y2="250.80" stroke="#231f20" stroke-width="1.5"/>
<text class="th" x="304.40" y="254.10" font-size="9.6" text-anchor="end" fill="#231f20">175</text>
<line x1="307.80" y1="262.94" x2="311.40" y2="262.94" stroke="#231f20" stroke-width="1.5"/>
<text class="th" x="304.40" y="266.24" font-size="9.6" text-anchor="end" fill="#231f20">150</text>
<line x1="307.80" y1="275.08" x2="311.40" y2="275.08" stroke="#231f20" stroke-width="1.5"/>
<text class="th" x="304.40" y="278.38" font-size="9.6" text-anchor="end" fill="#231f20">125</text>
<line x1="307.80" y1="287.22" x2="311.40" y2="287.22" stroke="#231f20" stroke-width="1.5"/>
<text class="th" x="304.40" y="290.52" font-size="9.6" text-anchor="end" fill="#231f20">100</text>
<line x1="307.80" y1="299.36" x2="311.40" y2="299.36" stroke="#231f20" stroke-width="1.5"/>
<text class="th" x="304.40" y="302.66" font-size="9.6" text-anchor="end" fill="#231f20">75</text>
<line x1="307.80" y1="311.50" x2="311.40" y2="311.50" stroke="#231f20" stroke-width="1.5"/>
<text class="th" x="304.40" y="314.80" font-size="9.6" text-anchor="end" fill="#231f20">50</text>
<line x1="311.40" y1="325.80" x2="311.40" y2="401.50" stroke="#231f20" stroke-width="1.5"/>
<line x1="307.90" y1="325.80" x2="314.90" y2="325.80" stroke="#231f20" stroke-width="1.5"/>
<line x1="307.80" y1="336.50" x2="311.40" y2="336.50" stroke="#231f20" stroke-width="1.5"/>
<text class="th" x="304.40" y="339.80" font-size="9.6" text-anchor="end" fill="#231f20">30</text>
<line x1="307.80" y1="358.17" x2="311.40" y2="358.17" stroke="#231f20" stroke-width="1.5"/>
<text class="th" x="304.40" y="361.47" font-size="9.6" text-anchor="end" fill="#231f20">20</text>
<line x1="307.80" y1="379.83" x2="311.40" y2="379.83" stroke="#231f20" stroke-width="1.5"/>
<text class="th" x="304.40" y="383.14" font-size="9.6" text-anchor="end" fill="#231f20">10</text>
<line x1="307.80" y1="401.50" x2="311.40" y2="401.50" stroke="#231f20" stroke-width="1.5"/>
<text class="th" x="304.40" y="404.80" font-size="9.6" text-anchor="end" fill="#231f20">0</text>
<line x1="310.80" y1="401.50" x2="511.25" y2="401.50" stroke="#231f20" stroke-width="1.5"/>
<text class="th" x="282.00" y="350.53" font-size="10.5" fill="#231f20" textLength="52.98" lengthAdjust="spacingAndGlyphs" transform="rotate(-90 282.00 350.53)">BAFF (ng/ml)</text>
<line x1="344.50" y1="401.50" x2="344.50" y2="405.10" stroke="#231f20" stroke-width="1.5"/>
<text class="th" x="344.50" y="417.00" font-size="9.6" text-anchor="middle" fill="#231f20">19</text>
<line x1="410.75" y1="401.50" x2="410.75" y2="405.10" stroke="#231f20" stroke-width="1.5"/>
<text class="th" x="410.75" y="417.00" font-size="9.6" text-anchor="middle" fill="#231f20">42</text>
<line x1="476.75" y1="401.50" x2="476.75" y2="405.10" stroke="#231f20" stroke-width="1.5"/>
<text class="th" x="476.75" y="417.00" font-size="9.6" text-anchor="middle" fill="#231f20">61</text>
<text class="th" x="381.59" y="433.20" font-size="11.6" fill="#231f20" textLength="59.41" lengthAdjust="spacingAndGlyphs">Days post-BMT</text>
<rect x="326.90" y="379.30" width="13.60" height="22.20" fill="#f1cd91" stroke="none" stroke-width="1"/>
<rect x="348.50" y="300.00" width="14.00" height="16.50" fill="#91a99a" stroke="none" stroke-width="1"/>
<rect x="348.50" y="325.80" width="14.00" height="75.70" fill="#91a99a" stroke="none" stroke-width="1"/>
<rect x="393.20" y="381.40" width="13.80" height="20.10" fill="#f1cd91" stroke="none" stroke-width="1"/>
<rect x="414.90" y="348.20" width="14.30" height="53.30" fill="#91a99a" stroke="none" stroke-width="1"/>
<rect x="459.10" y="384.70" width="13.90" height="16.80" fill="#f1cd91" stroke="none" stroke-width="1"/>
<rect x="481.20" y="382.50" width="13.80" height="19.00" fill="#91a99a" stroke="none" stroke-width="1"/>
<rect x="330.05" y="343.25" width="6.3" height="6.3" fill="none" stroke="#e09a2c" stroke-width="1.2"/>
<rect x="330.05" y="358.75" width="6.3" height="6.3" fill="none" stroke="#e09a2c" stroke-width="1.2"/>
<rect x="326.85" y="366.35" width="6.3" height="6.3" fill="none" stroke="#e09a2c" stroke-width="1.2"/>
<rect x="332.85" y="366.35" width="6.3" height="6.3" fill="none" stroke="#e09a2c" stroke-width="1.2"/>
<rect x="326.35" y="369.85" width="6.3" height="6.3" fill="none" stroke="#e09a2c" stroke-width="1.2"/>
<rect x="329.85" y="369.85" width="6.3" height="6.3" fill="none" stroke="#e09a2c" stroke-width="1.2"/>
<rect x="333.85" y="369.85" width="6.3" height="6.3" fill="none" stroke="#e09a2c" stroke-width="1.2"/>
<rect x="326.85" y="373.85" width="6.3" height="6.3" fill="none" stroke="#e09a2c" stroke-width="1.2"/>
<rect x="331.85" y="373.85" width="6.3" height="6.3" fill="none" stroke="#e09a2c" stroke-width="1.2"/>
<rect x="335.35" y="373.85" width="6.3" height="6.3" fill="none" stroke="#e09a2c" stroke-width="1.2"/>
<rect x="329.85" y="376.85" width="6.3" height="6.3" fill="none" stroke="#e09a2c" stroke-width="1.2"/>
<rect x="333.85" y="377.35" width="6.3" height="6.3" fill="none" stroke="#e09a2c" stroke-width="1.2"/>
<rect x="352.10" y="274.80" width="6.8" height="6.8" fill="#2f6147" stroke="none" stroke-width="1"/>
<rect x="352.10" y="283.60" width="6.8" height="6.8" fill="#2f6147" stroke="none" stroke-width="1"/>
<rect x="352.10" y="287.60" width="6.8" height="6.8" fill="#2f6147" stroke="none" stroke-width="1"/>
<rect x="348.00" y="291.60" width="6.8" height="6.8" fill="#2f6147" stroke="none" stroke-width="1"/>
<rect x="356.20" y="291.60" width="6.8" height="6.8" fill="#2f6147" stroke="none" stroke-width="1"/>
<rect x="348.00" y="295.10" width="6.8" height="6.8" fill="#2f6147" stroke="none" stroke-width="1"/>
<rect x="356.20" y="295.10" width="6.8" height="6.8" fill="#2f6147" stroke="none" stroke-width="1"/>
<rect x="352.10" y="295.60" width="6.8" height="6.8" fill="#2f6147" stroke="none" stroke-width="1"/>
<rect x="352.10" y="299.60" width="6.8" height="6.8" fill="#2f6147" stroke="none" stroke-width="1"/>
<rect x="352.10" y="301.80" width="6.8" height="6.8" fill="#2f6147" stroke="none" stroke-width="1"/>
<rect x="392.85" y="372.85" width="6.3" height="6.3" fill="none" stroke="#e09a2c" stroke-width="1.2"/>
<rect x="398.45" y="372.85" width="6.3" height="6.3" fill="none" stroke="#e09a2c" stroke-width="1.2"/>
<rect x="400.65" y="376.15" width="6.3" height="6.3" fill="none" stroke="#e09a2c" stroke-width="1.2"/>
<rect x="394.05" y="377.25" width="6.3" height="6.3" fill="none" stroke="#e09a2c" stroke-width="1.2"/>
<rect x="397.35" y="379.45" width="6.3" height="6.3" fill="none" stroke="#e09a2c" stroke-width="1.2"/>
<rect x="392.35" y="375.35" width="6.3" height="6.3" fill="none" stroke="#e09a2c" stroke-width="1.2"/>
<rect x="400.85" y="378.85" width="6.3" height="6.3" fill="none" stroke="#e09a2c" stroke-width="1.2"/>
<rect x="395.85" y="374.35" width="6.3" height="6.3" fill="none" stroke="#e09a2c" stroke-width="1.2"/>
<rect x="417.00" y="324.90" width="6.8" height="6.8" fill="#2f6147" stroke="none" stroke-width="1"/>
<rect x="419.20" y="323.80" width="6.8" height="6.8" fill="#2f6147" stroke="none" stroke-width="1"/>
<rect x="413.60" y="327.10" width="6.8" height="6.8" fill="#2f6147" stroke="none" stroke-width="1"/>
<rect x="414.80" y="332.60" width="6.8" height="6.8" fill="#2f6147" stroke="none" stroke-width="1"/>
<rect x="419.20" y="333.70" width="6.8" height="6.8" fill="#2f6147" stroke="none" stroke-width="1"/>
<rect x="414.80" y="338.10" width="6.8" height="6.8" fill="#2f6147" stroke="none" stroke-width="1"/>
<rect x="420.30" y="339.30" width="6.8" height="6.8" fill="#2f6147" stroke="none" stroke-width="1"/>
<rect x="418.10" y="351.40" width="6.8" height="6.8" fill="#2f6147" stroke="none" stroke-width="1"/>
<rect x="413.60" y="353.60" width="6.8" height="6.8" fill="#2f6147" stroke="none" stroke-width="1"/>
<rect x="422.50" y="353.60" width="6.8" height="6.8" fill="#2f6147" stroke="none" stroke-width="1"/>
<rect x="418.10" y="357.00" width="6.8" height="6.8" fill="#2f6147" stroke="none" stroke-width="1"/>
<rect x="418.10" y="365.80" width="6.8" height="6.8" fill="#2f6147" stroke="none" stroke-width="1"/>
<rect x="459.25" y="370.45" width="6.3" height="6.3" fill="none" stroke="#e09a2c" stroke-width="1.2"/>
<rect x="465.85" y="371.55" width="6.3" height="6.3" fill="none" stroke="#e09a2c" stroke-width="1.2"/>
<rect x="460.35" y="376.05" width="6.3" height="6.3" fill="none" stroke="#e09a2c" stroke-width="1.2"/>
<rect x="467.05" y="377.15" width="6.3" height="6.3" fill="none" stroke="#e09a2c" stroke-width="1.2"/>
<rect x="461.45" y="379.35" width="6.3" height="6.3" fill="none" stroke="#e09a2c" stroke-width="1.2"/>
<rect x="467.05" y="381.55" width="6.3" height="6.3" fill="none" stroke="#e09a2c" stroke-width="1.2"/>
<rect x="458.35" y="373.85" width="6.3" height="6.3" fill="none" stroke="#e09a2c" stroke-width="1.2"/>
<rect x="463.85" y="374.35" width="6.3" height="6.3" fill="none" stroke="#e09a2c" stroke-width="1.2"/>
<rect x="484.50" y="334.80" width="6.8" height="6.8" fill="#2f6147" stroke="none" stroke-width="1"/>
<rect x="484.50" y="345.90" width="6.8" height="6.8" fill="#2f6147" stroke="none" stroke-width="1"/>
<rect x="480.10" y="350.30" width="6.8" height="6.8" fill="#2f6147" stroke="none" stroke-width="1"/>
<rect x="488.90" y="354.70" width="6.8" height="6.8" fill="#2f6147" stroke="none" stroke-width="1"/>
<rect x="481.20" y="361.40" width="6.8" height="6.8" fill="#2f6147" stroke="none" stroke-width="1"/>
<rect x="487.80" y="362.50" width="6.8" height="6.8" fill="#2f6147" stroke="none" stroke-width="1"/>
<rect x="483.40" y="369.10" width="6.8" height="6.8" fill="#2f6147" stroke="none" stroke-width="1"/>
<rect x="480.10" y="375.80" width="6.8" height="6.8" fill="#2f6147" stroke="none" stroke-width="1"/>
<rect x="488.90" y="375.80" width="6.8" height="6.8" fill="#2f6147" stroke="none" stroke-width="1"/>
<rect x="485.60" y="357.00" width="6.8" height="6.8" fill="#2f6147" stroke="none" stroke-width="1"/>
<line x1="337.00" y1="270.25" x2="355.75" y2="270.25" stroke="#231f20" stroke-width="1.3"/>
<polygon points="340.75,263.85 341.24,265.17 342.65,265.23 341.55,266.11 341.93,267.47 340.75,266.69 339.57,267.47 339.95,266.11 338.85,265.23 340.26,265.17" fill="#231f20"/>
<polygon points="344.50,263.85 344.99,265.17 346.40,265.23 345.30,266.11 345.68,267.47 344.50,266.69 343.32,267.47 343.70,266.11 342.60,265.23 344.01,265.17" fill="#231f20"/>
<polygon points="348.25,263.85 348.74,265.17 350.15,265.23 349.05,266.11 349.43,267.47 348.25,266.69 347.07,267.47 347.45,266.11 346.35,265.23 347.76,265.17" fill="#231f20"/>
<polygon points="352.00,263.85 352.49,265.17 353.90,265.23 352.80,266.11 353.18,267.47 352.00,266.69 350.82,267.47 351.20,266.11 350.10,265.23 351.51,265.17" fill="#231f20"/>
<line x1="402.50" y1="319.25" x2="420.75" y2="319.25" stroke="#231f20" stroke-width="1.3"/>
<polygon points="406.00,312.85 406.49,314.17 407.90,314.23 406.80,315.11 407.18,316.47 406.00,315.69 404.82,316.47 405.20,315.11 404.10,314.23 405.51,314.17" fill="#231f20"/>
<polygon points="409.75,312.85 410.24,314.17 411.65,314.23 410.55,315.11 410.93,316.47 409.75,315.69 408.57,316.47 408.95,315.11 407.85,314.23 409.26,314.17" fill="#231f20"/>
<polygon points="413.50,312.85 413.99,314.17 415.40,314.23 414.30,315.11 414.68,316.47 413.50,315.69 412.32,316.47 412.70,315.11 411.60,314.23 413.01,314.17" fill="#231f20"/>
<polygon points="417.25,312.85 417.74,314.17 419.15,314.23 418.05,315.11 418.43,316.47 417.25,315.69 416.07,316.47 416.45,315.11 415.35,314.23 416.76,314.17" fill="#231f20"/>
<line x1="469.25" y1="330.00" x2="487.50" y2="330.00" stroke="#231f20" stroke-width="1.3"/>
<polygon points="476.50,323.60 476.99,324.92 478.40,324.98 477.30,325.86 477.68,327.22 476.50,326.44 475.32,327.22 475.70,325.86 474.60,324.98 476.01,324.92" fill="#231f20"/>
<polygon points="480.25,323.60 480.74,324.92 482.15,324.98 481.05,325.86 481.43,327.22 480.25,326.44 479.07,327.22 479.45,325.86 478.35,324.98 479.76,324.92" fill="#231f20"/>
<rect x="398.9" y="250.2" width="8.3" height="7.4" fill="none" stroke="#e09a2c" stroke-width="1.3"/>
<text class="th" x="410.76" y="256.50" font-size="8.8" fill="#231f20" textLength="73.85" lengthAdjust="spacingAndGlyphs">BAFF KO BM only</text>
<rect x="398.30" y="262.40" width="9.50" height="7.30" fill="#2f6147" stroke="none" stroke-width="1"/>
<text class="th" x="410.76" y="268.80" font-size="8.8" fill="#231f20" textLength="70.51" lengthAdjust="spacingAndGlyphs">BAFF KO BM+Sp</text>
<text class="bl" x="8.98" y="458.50" font-size="15.1" fill="#231f20" font-weight="bold" textLength="8.62" lengthAdjust="spacingAndGlyphs">E</text>
<line x1="48.50" y1="492.50" x2="48.50" y2="646.50" stroke="#231f20" stroke-width="1.5"/>
<line x1="44.90" y1="495.80" x2="48.50" y2="495.80" stroke="#231f20" stroke-width="1.5"/>
<text class="th" x="41.50" y="499.10" font-size="9.6" text-anchor="end" fill="#231f20">110</text>
<line x1="44.90" y1="533.48" x2="48.50" y2="533.48" stroke="#231f20" stroke-width="1.5"/>
<text class="th" x="41.50" y="536.78" font-size="9.6" text-anchor="end" fill="#231f20">100</text>
<line x1="44.90" y1="571.15" x2="48.50" y2="571.15" stroke="#231f20" stroke-width="1.5"/>
<text class="th" x="41.50" y="574.45" font-size="9.6" text-anchor="end" fill="#231f20">90</text>
<line x1="44.90" y1="608.83" x2="48.50" y2="608.83" stroke="#231f20" stroke-width="1.5"/>
<text class="th" x="41.50" y="612.13" font-size="9.6" text-anchor="end" fill="#231f20">80</text>
<line x1="44.90" y1="646.50" x2="48.50" y2="646.50" stroke="#231f20" stroke-width="1.5"/>
<text class="th" x="41.50" y="649.80" font-size="9.6" text-anchor="end" fill="#231f20">70</text>
<line x1="44.90" y1="646.50" x2="251.90" y2="646.50" stroke="#231f20" stroke-width="1.5"/>
<line x1="48.50" y1="646.50" x2="48.50" y2="650.10" stroke="#231f20" stroke-width="1.5"/>
<text class="th" x="48.50" y="662.30" font-size="9.6" text-anchor="middle" fill="#231f20">0</text>
<line x1="76.99" y1="646.50" x2="76.99" y2="650.10" stroke="#231f20" stroke-width="1.5"/>
<text class="th" x="76.99" y="662.30" font-size="9.6" text-anchor="middle" fill="#231f20">10</text>
<line x1="105.47" y1="646.50" x2="105.47" y2="650.10" stroke="#231f20" stroke-width="1.5"/>
<text class="th" x="105.47" y="662.30" font-size="9.6" text-anchor="middle" fill="#231f20">20</text>
<line x1="133.96" y1="646.50" x2="133.96" y2="650.10" stroke="#231f20" stroke-width="1.5"/>
<text class="th" x="133.96" y="662.30" font-size="9.6" text-anchor="middle" fill="#231f20">30</text>
<line x1="162.44" y1="646.50" x2="162.44" y2="650.10" stroke="#231f20" stroke-width="1.5"/>
<text class="th" x="162.44" y="662.30" font-size="9.6" text-anchor="middle" fill="#231f20">40</text>
<line x1="190.93" y1="646.50" x2="190.93" y2="650.10" stroke="#231f20" stroke-width="1.5"/>
<text class="th" x="190.93" y="662.30" font-size="9.6" text-anchor="middle" fill="#231f20">50</text>
<line x1="219.41" y1="646.50" x2="219.41" y2="650.10" stroke="#231f20" stroke-width="1.5"/>
<text class="th" x="219.41" y="662.30" font-size="9.6" text-anchor="middle" fill="#231f20">60</text>
<line x1="247.90" y1="646.50" x2="247.90" y2="650.10" stroke="#231f20" stroke-width="1.5"/>
<text class="th" x="247.90" y="662.30" font-size="9.6" text-anchor="middle" fill="#231f20">70</text>
<text class="th" x="118.80" y="678.20" font-size="11.8" fill="#231f20" textLength="59.10" lengthAdjust="spacingAndGlyphs">Days post-BMT</text>
<text class="th" x="18.50" y="620.83" font-size="11" fill="#231f20" textLength="103.20" lengthAdjust="spacingAndGlyphs" transform="rotate(-90 18.50 620.83)">% of original body weight</text>
<polyline points="48.50,533.70 60.10,587.70 62.20,595.00 68.50,612.00 73.80,599.30 82.30,589.80 90.70,579.20 102.40,582.40 108.70,586.60 122.50,610.90 124.60,617.30 134.10,636.30 142.20,627.30 153.30,619.60 153.30,610.70 167.70,610.70 182.00,604.10 187.60,616.20 193.10,603.00 202.00,617.30 207.50,605.20 213.00,608.50 221.90,610.70 227.40,610.70 232.90,615.10 241.80,618.40 247.30,596.30" fill="none" stroke="#2f6147" stroke-width="1.4" stroke-dasharray="3.5,2.5"/>
<polyline points="48.50,533.70 67.50,624.60 73.80,620.40 82.30,599.90 90.70,594.40 102.40,600.30 108.10,606.70 122.50,623.60 126.70,623.60 134.10,621.50 142.50,615.60 152.20,612.90 168.80,610.70 173.20,612.90 182.00,606.30 193.10,597.40 199.70,607.40 213.00,609.60 227.40,607.40 232.90,611.80 247.30,605.20" fill="none" stroke="#284682" stroke-width="1.4"/>
<polyline points="48.50,533.70 67.50,583.40 73.80,559.10 82.30,552.80 90.70,551.70 102.40,548.50 108.10,552.00 124.60,551.70 133.00,554.90 142.50,550.70 151.00,546.50 167.70,546.50 173.20,547.70 180.90,547.70 193.10,545.40 202.00,556.50 213.00,546.50 221.90,551.00 232.90,555.40 247.30,552.10" fill="none" stroke="#b5203f" stroke-width="1.4"/>
<polyline points="48.50,533.70 60.10,583.40 67.50,587.70 73.80,564.40 82.30,559.10 90.70,549.60 102.40,546.40 108.10,547.50 122.50,552.80 133.00,546.40 142.50,548.50 152.20,535.50 167.70,553.20 173.20,557.60 182.00,558.70 187.60,560.90 193.10,553.20 202.00,549.90 207.50,542.10 213.00,548.80 221.90,555.40 227.40,549.90 232.90,557.60 241.80,560.90 247.30,547.70" fill="none" stroke="#e09a2c" stroke-width="1.4" stroke-dasharray="3.5,2.5"/>
<line x1="67.50" y1="576.90" x2="67.50" y2="579.60" stroke="#b5203f" stroke-width="1.1"/>
<line x1="67.50" y1="587.20" x2="67.50" y2="589.90" stroke="#b5203f" stroke-width="1.1"/>
<line x1="64.25" y1="576.90" x2="70.75" y2="576.90" stroke="#b5203f" stroke-width="1.1"/>
<line x1="64.25" y1="589.90" x2="70.75" y2="589.90" stroke="#b5203f" stroke-width="1.1"/>
<line x1="73.80" y1="552.60" x2="73.80" y2="555.30" stroke="#b5203f" stroke-width="1.1"/>
<line x1="73.80" y1="562.90" x2="73.80" y2="565.60" stroke="#b5203f" stroke-width="1.1"/>
<line x1="70.55" y1="552.60" x2="77.05" y2="552.60" stroke="#b5203f" stroke-width="1.1"/>
<line x1="70.55" y1="565.60" x2="77.05" y2="565.60" stroke="#b5203f" stroke-width="1.1"/>
<line x1="82.30" y1="546.30" x2="82.30" y2="549.00" stroke="#b5203f" stroke-width="1.1"/>
<line x1="82.30" y1="556.60" x2="82.30" y2="559.30" stroke="#b5203f" stroke-width="1.1"/>
<line x1="79.05" y1="546.30" x2="85.55" y2="546.30" stroke="#b5203f" stroke-width="1.1"/>
<line x1="79.05" y1="559.30" x2="85.55" y2="559.30" stroke="#b5203f" stroke-width="1.1"/>
<line x1="90.70" y1="545.20" x2="90.70" y2="547.90" stroke="#b5203f" stroke-width="1.1"/>
<line x1="90.70" y1="555.50" x2="90.70" y2="558.20" stroke="#b5203f" stroke-width="1.1"/>
<line x1="87.45" y1="545.20" x2="93.95" y2="545.20" stroke="#b5203f" stroke-width="1.1"/>
<line x1="87.45" y1="558.20" x2="93.95" y2="558.20" stroke="#b5203f" stroke-width="1.1"/>
<line x1="102.40" y1="542.00" x2="102.40" y2="544.70" stroke="#b5203f" stroke-width="1.1"/>
<line x1="102.40" y1="552.30" x2="102.40" y2="555.00" stroke="#b5203f" stroke-width="1.1"/>
<line x1="99.15" y1="542.00" x2="105.65" y2="542.00" stroke="#b5203f" stroke-width="1.1"/>
<line x1="99.15" y1="555.00" x2="105.65" y2="555.00" stroke="#b5203f" stroke-width="1.1"/>
<line x1="108.10" y1="545.50" x2="108.10" y2="548.20" stroke="#b5203f" stroke-width="1.1"/>
<line x1="108.10" y1="555.80" x2="108.10" y2="558.50" stroke="#b5203f" stroke-width="1.1"/>
<line x1="104.85" y1="545.50" x2="111.35" y2="545.50" stroke="#b5203f" stroke-width="1.1"/>
<line x1="104.85" y1="558.50" x2="111.35" y2="558.50" stroke="#b5203f" stroke-width="1.1"/>
<line x1="124.60" y1="545.20" x2="124.60" y2="547.90" stroke="#b5203f" stroke-width="1.1"/>
<line x1="124.60" y1="555.50" x2="124.60" y2="558.20" stroke="#b5203f" stroke-width="1.1"/>
<line x1="121.35" y1="545.20" x2="127.85" y2="545.20" stroke="#b5203f" stroke-width="1.1"/>
<line x1="121.35" y1="558.20" x2="127.85" y2="558.20" stroke="#b5203f" stroke-width="1.1"/>
<line x1="133.00" y1="548.40" x2="133.00" y2="551.10" stroke="#b5203f" stroke-width="1.1"/>
<line x1="133.00" y1="558.70" x2="133.00" y2="561.40" stroke="#b5203f" stroke-width="1.1"/>
<line x1="129.75" y1="548.40" x2="136.25" y2="548.40" stroke="#b5203f" stroke-width="1.1"/>
<line x1="129.75" y1="561.40" x2="136.25" y2="561.40" stroke="#b5203f" stroke-width="1.1"/>
<line x1="142.50" y1="544.20" x2="142.50" y2="546.90" stroke="#b5203f" stroke-width="1.1"/>
<line x1="142.50" y1="554.50" x2="142.50" y2="557.20" stroke="#b5203f" stroke-width="1.1"/>
<line x1="139.25" y1="544.20" x2="145.75" y2="544.20" stroke="#b5203f" stroke-width="1.1"/>
<line x1="139.25" y1="557.20" x2="145.75" y2="557.20" stroke="#b5203f" stroke-width="1.1"/>
<line x1="151.00" y1="540.00" x2="151.00" y2="542.70" stroke="#b5203f" stroke-width="1.1"/>
<line x1="151.00" y1="550.30" x2="151.00" y2="553.00" stroke="#b5203f" stroke-width="1.1"/>
<line x1="147.75" y1="540.00" x2="154.25" y2="540.00" stroke="#b5203f" stroke-width="1.1"/>
<line x1="147.75" y1="553.00" x2="154.25" y2="553.00" stroke="#b5203f" stroke-width="1.1"/>
<line x1="167.70" y1="540.00" x2="167.70" y2="542.70" stroke="#b5203f" stroke-width="1.1"/>
<line x1="167.70" y1="550.30" x2="167.70" y2="553.00" stroke="#b5203f" stroke-width="1.1"/>
<line x1="164.45" y1="540.00" x2="170.95" y2="540.00" stroke="#b5203f" stroke-width="1.1"/>
<line x1="164.45" y1="553.00" x2="170.95" y2="553.00" stroke="#b5203f" stroke-width="1.1"/>
<line x1="173.20" y1="541.20" x2="173.20" y2="543.90" stroke="#b5203f" stroke-width="1.1"/>
<line x1="173.20" y1="551.50" x2="173.20" y2="554.20" stroke="#b5203f" stroke-width="1.1"/>
<line x1="169.95" y1="541.20" x2="176.45" y2="541.20" stroke="#b5203f" stroke-width="1.1"/>
<line x1="169.95" y1="554.20" x2="176.45" y2="554.20" stroke="#b5203f" stroke-width="1.1"/>
<line x1="180.90" y1="541.20" x2="180.90" y2="543.90" stroke="#b5203f" stroke-width="1.1"/>
<line x1="180.90" y1="551.50" x2="180.90" y2="554.20" stroke="#b5203f" stroke-width="1.1"/>
<line x1="177.65" y1="541.20" x2="184.15" y2="541.20" stroke="#b5203f" stroke-width="1.1"/>
<line x1="177.65" y1="554.20" x2="184.15" y2="554.20" stroke="#b5203f" stroke-width="1.1"/>
<line x1="193.10" y1="538.90" x2="193.10" y2="541.60" stroke="#b5203f" stroke-width="1.1"/>
<line x1="193.10" y1="549.20" x2="193.10" y2="551.90" stroke="#b5203f" stroke-width="1.1"/>
<line x1="189.85" y1="538.90" x2="196.35" y2="538.90" stroke="#b5203f" stroke-width="1.1"/>
<line x1="189.85" y1="551.90" x2="196.35" y2="551.90" stroke="#b5203f" stroke-width="1.1"/>
<line x1="202.00" y1="550.00" x2="202.00" y2="552.70" stroke="#b5203f" stroke-width="1.1"/>
<line x1="202.00" y1="560.30" x2="202.00" y2="563.00" stroke="#b5203f" stroke-width="1.1"/>
<line x1="198.75" y1="550.00" x2="205.25" y2="550.00" stroke="#b5203f" stroke-width="1.1"/>
<line x1="198.75" y1="563.00" x2="205.25" y2="563.00" stroke="#b5203f" stroke-width="1.1"/>
<line x1="213.00" y1="540.00" x2="213.00" y2="542.70" stroke="#b5203f" stroke-width="1.1"/>
<line x1="213.00" y1="550.30" x2="213.00" y2="553.00" stroke="#b5203f" stroke-width="1.1"/>
<line x1="209.75" y1="540.00" x2="216.25" y2="540.00" stroke="#b5203f" stroke-width="1.1"/>
<line x1="209.75" y1="553.00" x2="216.25" y2="553.00" stroke="#b5203f" stroke-width="1.1"/>
<line x1="221.90" y1="544.50" x2="221.90" y2="547.20" stroke="#b5203f" stroke-width="1.1"/>
<line x1="221.90" y1="554.80" x2="221.90" y2="557.50" stroke="#b5203f" stroke-width="1.1"/>
<line x1="218.65" y1="544.50" x2="225.15" y2="544.50" stroke="#b5203f" stroke-width="1.1"/>
<line x1="218.65" y1="557.50" x2="225.15" y2="557.50" stroke="#b5203f" stroke-width="1.1"/>
<line x1="232.90" y1="548.90" x2="232.90" y2="551.60" stroke="#b5203f" stroke-width="1.1"/>
<line x1="232.90" y1="559.20" x2="232.90" y2="561.90" stroke="#b5203f" stroke-width="1.1"/>
<line x1="229.65" y1="548.90" x2="236.15" y2="548.90" stroke="#b5203f" stroke-width="1.1"/>
<line x1="229.65" y1="561.90" x2="236.15" y2="561.90" stroke="#b5203f" stroke-width="1.1"/>
<line x1="247.30" y1="545.60" x2="247.30" y2="548.30" stroke="#b5203f" stroke-width="1.1"/>
<line x1="247.30" y1="555.90" x2="247.30" y2="558.60" stroke="#b5203f" stroke-width="1.1"/>
<line x1="244.05" y1="545.60" x2="250.55" y2="545.60" stroke="#b5203f" stroke-width="1.1"/>
<line x1="244.05" y1="558.60" x2="250.55" y2="558.60" stroke="#b5203f" stroke-width="1.1"/>
<line x1="67.50" y1="617.60" x2="67.50" y2="620.80" stroke="#284682" stroke-width="1.1"/>
<line x1="67.50" y1="628.40" x2="67.50" y2="631.60" stroke="#284682" stroke-width="1.1"/>
<line x1="64.25" y1="617.60" x2="70.75" y2="617.60" stroke="#284682" stroke-width="1.1"/>
<line x1="64.25" y1="631.60" x2="70.75" y2="631.60" stroke="#284682" stroke-width="1.1"/>
<line x1="73.80" y1="613.40" x2="73.80" y2="616.60" stroke="#284682" stroke-width="1.1"/>
<line x1="73.80" y1="624.20" x2="73.80" y2="627.40" stroke="#284682" stroke-width="1.1"/>
<line x1="70.55" y1="613.40" x2="77.05" y2="613.40" stroke="#284682" stroke-width="1.1"/>
<line x1="70.55" y1="627.40" x2="77.05" y2="627.40" stroke="#284682" stroke-width="1.1"/>
<line x1="82.30" y1="592.90" x2="82.30" y2="596.10" stroke="#284682" stroke-width="1.1"/>
<line x1="82.30" y1="603.70" x2="82.30" y2="606.90" stroke="#284682" stroke-width="1.1"/>
<line x1="79.05" y1="592.90" x2="85.55" y2="592.90" stroke="#284682" stroke-width="1.1"/>
<line x1="79.05" y1="606.90" x2="85.55" y2="606.90" stroke="#284682" stroke-width="1.1"/>
<line x1="90.70" y1="587.40" x2="90.70" y2="590.60" stroke="#284682" stroke-width="1.1"/>
<line x1="90.70" y1="598.20" x2="90.70" y2="601.40" stroke="#284682" stroke-width="1.1"/>
<line x1="87.45" y1="587.40" x2="93.95" y2="587.40" stroke="#284682" stroke-width="1.1"/>
<line x1="87.45" y1="601.40" x2="93.95" y2="601.40" stroke="#284682" stroke-width="1.1"/>
<line x1="102.40" y1="593.30" x2="102.40" y2="596.50" stroke="#284682" stroke-width="1.1"/>
<line x1="102.40" y1="604.10" x2="102.40" y2="607.30" stroke="#284682" stroke-width="1.1"/>
<line x1="99.15" y1="593.30" x2="105.65" y2="593.30" stroke="#284682" stroke-width="1.1"/>
<line x1="99.15" y1="607.30" x2="105.65" y2="607.30" stroke="#284682" stroke-width="1.1"/>
<line x1="108.10" y1="599.70" x2="108.10" y2="602.90" stroke="#284682" stroke-width="1.1"/>
<line x1="108.10" y1="610.50" x2="108.10" y2="613.70" stroke="#284682" stroke-width="1.1"/>
<line x1="104.85" y1="599.70" x2="111.35" y2="599.70" stroke="#284682" stroke-width="1.1"/>
<line x1="104.85" y1="613.70" x2="111.35" y2="613.70" stroke="#284682" stroke-width="1.1"/>
<line x1="122.50" y1="616.60" x2="122.50" y2="619.80" stroke="#284682" stroke-width="1.1"/>
<line x1="122.50" y1="627.40" x2="122.50" y2="630.60" stroke="#284682" stroke-width="1.1"/>
<line x1="119.25" y1="616.60" x2="125.75" y2="616.60" stroke="#284682" stroke-width="1.1"/>
<line x1="119.25" y1="630.60" x2="125.75" y2="630.60" stroke="#284682" stroke-width="1.1"/>
<line x1="126.70" y1="616.60" x2="126.70" y2="619.80" stroke="#284682" stroke-width="1.1"/>
<line x1="126.70" y1="627.40" x2="126.70" y2="630.60" stroke="#284682" stroke-width="1.1"/>
<line x1="123.45" y1="616.60" x2="129.95" y2="616.60" stroke="#284682" stroke-width="1.1"/>
<line x1="123.45" y1="630.60" x2="129.95" y2="630.60" stroke="#284682" stroke-width="1.1"/>
<line x1="134.10" y1="614.50" x2="134.10" y2="617.70" stroke="#284682" stroke-width="1.1"/>
<line x1="134.10" y1="625.30" x2="134.10" y2="628.50" stroke="#284682" stroke-width="1.1"/>
<line x1="130.85" y1="614.50" x2="137.35" y2="614.50" stroke="#284682" stroke-width="1.1"/>
<line x1="130.85" y1="628.50" x2="137.35" y2="628.50" stroke="#284682" stroke-width="1.1"/>
<line x1="142.50" y1="608.60" x2="142.50" y2="611.80" stroke="#284682" stroke-width="1.1"/>
<line x1="142.50" y1="619.40" x2="142.50" y2="622.60" stroke="#284682" stroke-width="1.1"/>
<line x1="139.25" y1="608.60" x2="145.75" y2="608.60" stroke="#284682" stroke-width="1.1"/>
<line x1="139.25" y1="622.60" x2="145.75" y2="622.60" stroke="#284682" stroke-width="1.1"/>
<line x1="152.20" y1="605.90" x2="152.20" y2="609.10" stroke="#284682" stroke-width="1.1"/>
<line x1="152.20" y1="616.70" x2="152.20" y2="619.90" stroke="#284682" stroke-width="1.1"/>
<line x1="148.95" y1="605.90" x2="155.45" y2="605.90" stroke="#284682" stroke-width="1.1"/>
<line x1="148.95" y1="619.90" x2="155.45" y2="619.90" stroke="#284682" stroke-width="1.1"/>
<line x1="168.80" y1="603.70" x2="168.80" y2="606.90" stroke="#284682" stroke-width="1.1"/>
<line x1="168.80" y1="614.50" x2="168.80" y2="617.70" stroke="#284682" stroke-width="1.1"/>
<line x1="165.55" y1="603.70" x2="172.05" y2="603.70" stroke="#284682" stroke-width="1.1"/>
<line x1="165.55" y1="617.70" x2="172.05" y2="617.70" stroke="#284682" stroke-width="1.1"/>
<line x1="173.20" y1="605.90" x2="173.20" y2="609.10" stroke="#284682" stroke-width="1.1"/>
<line x1="173.20" y1="616.70" x2="173.20" y2="619.90" stroke="#284682" stroke-width="1.1"/>
<line x1="169.95" y1="605.90" x2="176.45" y2="605.90" stroke="#284682" stroke-width="1.1"/>
<line x1="169.95" y1="619.90" x2="176.45" y2="619.90" stroke="#284682" stroke-width="1.1"/>
<line x1="182.00" y1="599.30" x2="182.00" y2="602.50" stroke="#284682" stroke-width="1.1"/>
<line x1="182.00" y1="610.10" x2="182.00" y2="613.30" stroke="#284682" stroke-width="1.1"/>
<line x1="178.75" y1="599.30" x2="185.25" y2="599.30" stroke="#284682" stroke-width="1.1"/>
<line x1="178.75" y1="613.30" x2="185.25" y2="613.30" stroke="#284682" stroke-width="1.1"/>
<line x1="193.10" y1="590.40" x2="193.10" y2="593.60" stroke="#284682" stroke-width="1.1"/>
<line x1="193.10" y1="601.20" x2="193.10" y2="604.40" stroke="#284682" stroke-width="1.1"/>
<line x1="189.85" y1="590.40" x2="196.35" y2="590.40" stroke="#284682" stroke-width="1.1"/>
<line x1="189.85" y1="604.40" x2="196.35" y2="604.40" stroke="#284682" stroke-width="1.1"/>
<line x1="199.70" y1="600.40" x2="199.70" y2="603.60" stroke="#284682" stroke-width="1.1"/>
<line x1="199.70" y1="611.20" x2="199.70" y2="614.40" stroke="#284682" stroke-width="1.1"/>
<line x1="196.45" y1="600.40" x2="202.95" y2="600.40" stroke="#284682" stroke-width="1.1"/>
<line x1="196.45" y1="614.40" x2="202.95" y2="614.40" stroke="#284682" stroke-width="1.1"/>
<line x1="213.00" y1="602.60" x2="213.00" y2="605.80" stroke="#284682" stroke-width="1.1"/>
<line x1="213.00" y1="613.40" x2="213.00" y2="616.60" stroke="#284682" stroke-width="1.1"/>
<line x1="209.75" y1="602.60" x2="216.25" y2="602.60" stroke="#284682" stroke-width="1.1"/>
<line x1="209.75" y1="616.60" x2="216.25" y2="616.60" stroke="#284682" stroke-width="1.1"/>
<line x1="227.40" y1="600.40" x2="227.40" y2="603.60" stroke="#284682" stroke-width="1.1"/>
<line x1="227.40" y1="611.20" x2="227.40" y2="614.40" stroke="#284682" stroke-width="1.1"/>
<line x1="224.15" y1="600.40" x2="230.65" y2="600.40" stroke="#284682" stroke-width="1.1"/>
<line x1="224.15" y1="614.40" x2="230.65" y2="614.40" stroke="#284682" stroke-width="1.1"/>
<line x1="232.90" y1="604.80" x2="232.90" y2="608.00" stroke="#284682" stroke-width="1.1"/>
<line x1="232.90" y1="615.60" x2="232.90" y2="618.80" stroke="#284682" stroke-width="1.1"/>
<line x1="229.65" y1="604.80" x2="236.15" y2="604.80" stroke="#284682" stroke-width="1.1"/>
<line x1="229.65" y1="618.80" x2="236.15" y2="618.80" stroke="#284682" stroke-width="1.1"/>
<line x1="247.30" y1="598.20" x2="247.30" y2="601.40" stroke="#284682" stroke-width="1.1"/>
<line x1="247.30" y1="609.00" x2="247.30" y2="612.20" stroke="#284682" stroke-width="1.1"/>
<line x1="244.05" y1="598.20" x2="250.55" y2="598.20" stroke="#284682" stroke-width="1.1"/>
<line x1="244.05" y1="612.20" x2="250.55" y2="612.20" stroke="#284682" stroke-width="1.1"/>
<line x1="60.10" y1="577.90" x2="60.10" y2="579.40" stroke="#e09a2c" stroke-width="1.1"/>
<line x1="60.10" y1="587.40" x2="60.10" y2="588.90" stroke="#e09a2c" stroke-width="1.1"/>
<line x1="56.85" y1="577.90" x2="63.35" y2="577.90" stroke="#e09a2c" stroke-width="1.1"/>
<line x1="56.85" y1="588.90" x2="63.35" y2="588.90" stroke="#e09a2c" stroke-width="1.1"/>
<line x1="67.50" y1="582.20" x2="67.50" y2="583.70" stroke="#e09a2c" stroke-width="1.1"/>
<line x1="67.50" y1="591.70" x2="67.50" y2="593.20" stroke="#e09a2c" stroke-width="1.1"/>
<line x1="64.25" y1="582.20" x2="70.75" y2="582.20" stroke="#e09a2c" stroke-width="1.1"/>
<line x1="64.25" y1="593.20" x2="70.75" y2="593.20" stroke="#e09a2c" stroke-width="1.1"/>
<line x1="73.80" y1="558.90" x2="73.80" y2="560.40" stroke="#e09a2c" stroke-width="1.1"/>
<line x1="73.80" y1="568.40" x2="73.80" y2="569.90" stroke="#e09a2c" stroke-width="1.1"/>
<line x1="70.55" y1="558.90" x2="77.05" y2="558.90" stroke="#e09a2c" stroke-width="1.1"/>
<line x1="70.55" y1="569.90" x2="77.05" y2="569.90" stroke="#e09a2c" stroke-width="1.1"/>
<line x1="82.30" y1="553.60" x2="82.30" y2="555.10" stroke="#e09a2c" stroke-width="1.1"/>
<line x1="82.30" y1="563.10" x2="82.30" y2="564.60" stroke="#e09a2c" stroke-width="1.1"/>
<line x1="79.05" y1="553.60" x2="85.55" y2="553.60" stroke="#e09a2c" stroke-width="1.1"/>
<line x1="79.05" y1="564.60" x2="85.55" y2="564.60" stroke="#e09a2c" stroke-width="1.1"/>
<line x1="90.70" y1="544.10" x2="90.70" y2="545.60" stroke="#e09a2c" stroke-width="1.1"/>
<line x1="90.70" y1="553.60" x2="90.70" y2="555.10" stroke="#e09a2c" stroke-width="1.1"/>
<line x1="87.45" y1="544.10" x2="93.95" y2="544.10" stroke="#e09a2c" stroke-width="1.1"/>
<line x1="87.45" y1="555.10" x2="93.95" y2="555.10" stroke="#e09a2c" stroke-width="1.1"/>
<line x1="102.40" y1="540.90" x2="102.40" y2="542.40" stroke="#e09a2c" stroke-width="1.1"/>
<line x1="102.40" y1="550.40" x2="102.40" y2="551.90" stroke="#e09a2c" stroke-width="1.1"/>
<line x1="99.15" y1="540.90" x2="105.65" y2="540.90" stroke="#e09a2c" stroke-width="1.1"/>
<line x1="99.15" y1="551.90" x2="105.65" y2="551.90" stroke="#e09a2c" stroke-width="1.1"/>
<line x1="108.10" y1="542.00" x2="108.10" y2="543.50" stroke="#e09a2c" stroke-width="1.1"/>
<line x1="108.10" y1="551.50" x2="108.10" y2="553.00" stroke="#e09a2c" stroke-width="1.1"/>
<line x1="104.85" y1="542.00" x2="111.35" y2="542.00" stroke="#e09a2c" stroke-width="1.1"/>
<line x1="104.85" y1="553.00" x2="111.35" y2="553.00" stroke="#e09a2c" stroke-width="1.1"/>
<line x1="122.50" y1="547.30" x2="122.50" y2="548.80" stroke="#e09a2c" stroke-width="1.1"/>
<line x1="122.50" y1="556.80" x2="122.50" y2="558.30" stroke="#e09a2c" stroke-width="1.1"/>
<line x1="119.25" y1="547.30" x2="125.75" y2="547.30" stroke="#e09a2c" stroke-width="1.1"/>
<line x1="119.25" y1="558.30" x2="125.75" y2="558.30" stroke="#e09a2c" stroke-width="1.1"/>
<line x1="133.00" y1="540.90" x2="133.00" y2="542.40" stroke="#e09a2c" stroke-width="1.1"/>
<line x1="133.00" y1="550.40" x2="133.00" y2="551.90" stroke="#e09a2c" stroke-width="1.1"/>
<line x1="129.75" y1="540.90" x2="136.25" y2="540.90" stroke="#e09a2c" stroke-width="1.1"/>
<line x1="129.75" y1="551.90" x2="136.25" y2="551.90" stroke="#e09a2c" stroke-width="1.1"/>
<line x1="142.50" y1="543.00" x2="142.50" y2="544.50" stroke="#e09a2c" stroke-width="1.1"/>
<line x1="142.50" y1="552.50" x2="142.50" y2="554.00" stroke="#e09a2c" stroke-width="1.1"/>
<line x1="139.25" y1="543.00" x2="145.75" y2="543.00" stroke="#e09a2c" stroke-width="1.1"/>
<line x1="139.25" y1="554.00" x2="145.75" y2="554.00" stroke="#e09a2c" stroke-width="1.1"/>
<line x1="152.20" y1="530.00" x2="152.20" y2="531.50" stroke="#e09a2c" stroke-width="1.1"/>
<line x1="152.20" y1="539.50" x2="152.20" y2="541.00" stroke="#e09a2c" stroke-width="1.1"/>
<line x1="148.95" y1="530.00" x2="155.45" y2="530.00" stroke="#e09a2c" stroke-width="1.1"/>
<line x1="148.95" y1="541.00" x2="155.45" y2="541.00" stroke="#e09a2c" stroke-width="1.1"/>
<line x1="167.70" y1="547.70" x2="167.70" y2="549.20" stroke="#e09a2c" stroke-width="1.1"/>
<line x1="167.70" y1="557.20" x2="167.70" y2="558.70" stroke="#e09a2c" stroke-width="1.1"/>
<line x1="164.45" y1="547.70" x2="170.95" y2="547.70" stroke="#e09a2c" stroke-width="1.1"/>
<line x1="164.45" y1="558.70" x2="170.95" y2="558.70" stroke="#e09a2c" stroke-width="1.1"/>
<line x1="173.20" y1="552.10" x2="173.20" y2="553.60" stroke="#e09a2c" stroke-width="1.1"/>
<line x1="173.20" y1="561.60" x2="173.20" y2="563.10" stroke="#e09a2c" stroke-width="1.1"/>
<line x1="169.95" y1="552.10" x2="176.45" y2="552.10" stroke="#e09a2c" stroke-width="1.1"/>
<line x1="169.95" y1="563.10" x2="176.45" y2="563.10" stroke="#e09a2c" stroke-width="1.1"/>
<line x1="182.00" y1="553.20" x2="182.00" y2="554.70" stroke="#e09a2c" stroke-width="1.1"/>
<line x1="182.00" y1="562.70" x2="182.00" y2="564.20" stroke="#e09a2c" stroke-width="1.1"/>
<line x1="178.75" y1="553.20" x2="185.25" y2="553.20" stroke="#e09a2c" stroke-width="1.1"/>
<line x1="178.75" y1="564.20" x2="185.25" y2="564.20" stroke="#e09a2c" stroke-width="1.1"/>
<line x1="187.60" y1="555.40" x2="187.60" y2="556.90" stroke="#e09a2c" stroke-width="1.1"/>
<line x1="187.60" y1="564.90" x2="187.60" y2="566.40" stroke="#e09a2c" stroke-width="1.1"/>
<line x1="184.35" y1="555.40" x2="190.85" y2="555.40" stroke="#e09a2c" stroke-width="1.1"/>
<line x1="184.35" y1="566.40" x2="190.85" y2="566.40" stroke="#e09a2c" stroke-width="1.1"/>
<line x1="193.10" y1="547.70" x2="193.10" y2="549.20" stroke="#e09a2c" stroke-width="1.1"/>
<line x1="193.10" y1="557.20" x2="193.10" y2="558.70" stroke="#e09a2c" stroke-width="1.1"/>
<line x1="189.85" y1="547.70" x2="196.35" y2="547.70" stroke="#e09a2c" stroke-width="1.1"/>
<line x1="189.85" y1="558.70" x2="196.35" y2="558.70" stroke="#e09a2c" stroke-width="1.1"/>
<line x1="202.00" y1="544.40" x2="202.00" y2="545.90" stroke="#e09a2c" stroke-width="1.1"/>
<line x1="202.00" y1="553.90" x2="202.00" y2="555.40" stroke="#e09a2c" stroke-width="1.1"/>
<line x1="198.75" y1="544.40" x2="205.25" y2="544.40" stroke="#e09a2c" stroke-width="1.1"/>
<line x1="198.75" y1="555.40" x2="205.25" y2="555.40" stroke="#e09a2c" stroke-width="1.1"/>
<line x1="207.50" y1="536.60" x2="207.50" y2="538.10" stroke="#e09a2c" stroke-width="1.1"/>
<line x1="207.50" y1="546.10" x2="207.50" y2="547.60" stroke="#e09a2c" stroke-width="1.1"/>
<line x1="204.25" y1="536.60" x2="210.75" y2="536.60" stroke="#e09a2c" stroke-width="1.1"/>
<line x1="204.25" y1="547.60" x2="210.75" y2="547.60" stroke="#e09a2c" stroke-width="1.1"/>
<line x1="213.00" y1="543.30" x2="213.00" y2="544.80" stroke="#e09a2c" stroke-width="1.1"/>
<line x1="213.00" y1="552.80" x2="213.00" y2="554.30" stroke="#e09a2c" stroke-width="1.1"/>
<line x1="209.75" y1="543.30" x2="216.25" y2="543.30" stroke="#e09a2c" stroke-width="1.1"/>
<line x1="209.75" y1="554.30" x2="216.25" y2="554.30" stroke="#e09a2c" stroke-width="1.1"/>
<line x1="221.90" y1="549.90" x2="221.90" y2="551.40" stroke="#e09a2c" stroke-width="1.1"/>
<line x1="221.90" y1="559.40" x2="221.90" y2="560.90" stroke="#e09a2c" stroke-width="1.1"/>
<line x1="218.65" y1="549.90" x2="225.15" y2="549.90" stroke="#e09a2c" stroke-width="1.1"/>
<line x1="218.65" y1="560.90" x2="225.15" y2="560.90" stroke="#e09a2c" stroke-width="1.1"/>
<line x1="227.40" y1="544.40" x2="227.40" y2="545.90" stroke="#e09a2c" stroke-width="1.1"/>
<line x1="227.40" y1="553.90" x2="227.40" y2="555.40" stroke="#e09a2c" stroke-width="1.1"/>
<line x1="224.15" y1="544.40" x2="230.65" y2="544.40" stroke="#e09a2c" stroke-width="1.1"/>
<line x1="224.15" y1="555.40" x2="230.65" y2="555.40" stroke="#e09a2c" stroke-width="1.1"/>
<line x1="232.90" y1="552.10" x2="232.90" y2="553.60" stroke="#e09a2c" stroke-width="1.1"/>
<line x1="232.90" y1="561.60" x2="232.90" y2="563.10" stroke="#e09a2c" stroke-width="1.1"/>
<line x1="229.65" y1="552.10" x2="236.15" y2="552.10" stroke="#e09a2c" stroke-width="1.1"/>
<line x1="229.65" y1="563.10" x2="236.15" y2="563.10" stroke="#e09a2c" stroke-width="1.1"/>
<line x1="241.80" y1="555.40" x2="241.80" y2="556.90" stroke="#e09a2c" stroke-width="1.1"/>
<line x1="241.80" y1="564.90" x2="241.80" y2="566.40" stroke="#e09a2c" stroke-width="1.1"/>
<line x1="238.55" y1="555.40" x2="245.05" y2="555.40" stroke="#e09a2c" stroke-width="1.1"/>
<line x1="238.55" y1="566.40" x2="245.05" y2="566.40" stroke="#e09a2c" stroke-width="1.1"/>
<line x1="247.30" y1="542.20" x2="247.30" y2="543.70" stroke="#e09a2c" stroke-width="1.1"/>
<line x1="247.30" y1="551.70" x2="247.30" y2="553.20" stroke="#e09a2c" stroke-width="1.1"/>
<line x1="244.05" y1="542.20" x2="250.55" y2="542.20" stroke="#e09a2c" stroke-width="1.1"/>
<line x1="244.05" y1="553.20" x2="250.55" y2="553.20" stroke="#e09a2c" stroke-width="1.1"/>
<circle cx="67.50" cy="583.40" r="3.8" fill="none" stroke="#b5203f" stroke-width="1.3"/>
<circle cx="73.80" cy="559.10" r="3.8" fill="none" stroke="#b5203f" stroke-width="1.3"/>
<circle cx="82.30" cy="552.80" r="3.8" fill="none" stroke="#b5203f" stroke-width="1.3"/>
<circle cx="90.70" cy="551.70" r="3.8" fill="none" stroke="#b5203f" stroke-width="1.3"/>
<circle cx="102.40" cy="548.50" r="3.8" fill="none" stroke="#b5203f" stroke-width="1.3"/>
<circle cx="108.10" cy="552.00" r="3.8" fill="none" stroke="#b5203f" stroke-width="1.3"/>
<circle cx="124.60" cy="551.70" r="3.8" fill="none" stroke="#b5203f" stroke-width="1.3"/>
<circle cx="133.00" cy="554.90" r="3.8" fill="none" stroke="#b5203f" stroke-width="1.3"/>
<circle cx="142.50" cy="550.70" r="3.8" fill="none" stroke="#b5203f" stroke-width="1.3"/>
<circle cx="151.00" cy="546.50" r="3.8" fill="none" stroke="#b5203f" stroke-width="1.3"/>
<circle cx="167.70" cy="546.50" r="3.8" fill="none" stroke="#b5203f" stroke-width="1.3"/>
<circle cx="173.20" cy="547.70" r="3.8" fill="none" stroke="#b5203f" stroke-width="1.3"/>
<circle cx="180.90" cy="547.70" r="3.8" fill="none" stroke="#b5203f" stroke-width="1.3"/>
<circle cx="193.10" cy="545.40" r="3.8" fill="none" stroke="#b5203f" stroke-width="1.3"/>
<circle cx="202.00" cy="556.50" r="3.8" fill="none" stroke="#b5203f" stroke-width="1.3"/>
<circle cx="213.00" cy="546.50" r="3.8" fill="none" stroke="#b5203f" stroke-width="1.3"/>
<circle cx="221.90" cy="551.00" r="3.8" fill="none" stroke="#b5203f" stroke-width="1.3"/>
<circle cx="232.90" cy="555.40" r="3.8" fill="none" stroke="#b5203f" stroke-width="1.3"/>
<circle cx="247.30" cy="552.10" r="3.8" fill="none" stroke="#b5203f" stroke-width="1.3"/>
<rect x="56.30" y="579.60" width="7.6" height="7.6" fill="white" stroke="#e09a2c" stroke-width="1.1"/>
<line x1="58.60" y1="582.20" x2="61.60" y2="584.60" stroke="#e09a2c" stroke-width="1.0"/>
<rect x="63.70" y="583.90" width="7.6" height="7.6" fill="white" stroke="#e09a2c" stroke-width="1.1"/>
<line x1="66.00" y1="586.50" x2="69.00" y2="588.90" stroke="#e09a2c" stroke-width="1.0"/>
<rect x="70.00" y="560.60" width="7.6" height="7.6" fill="white" stroke="#e09a2c" stroke-width="1.1"/>
<line x1="72.30" y1="563.20" x2="75.30" y2="565.60" stroke="#e09a2c" stroke-width="1.0"/>
<rect x="78.50" y="555.30" width="7.6" height="7.6" fill="white" stroke="#e09a2c" stroke-width="1.1"/>
<line x1="80.80" y1="557.90" x2="83.80" y2="560.30" stroke="#e09a2c" stroke-width="1.0"/>
<rect x="86.90" y="545.80" width="7.6" height="7.6" fill="white" stroke="#e09a2c" stroke-width="1.1"/>
<line x1="89.20" y1="548.40" x2="92.20" y2="550.80" stroke="#e09a2c" stroke-width="1.0"/>
<rect x="98.60" y="542.60" width="7.6" height="7.6" fill="white" stroke="#e09a2c" stroke-width="1.1"/>
<line x1="100.90" y1="545.20" x2="103.90" y2="547.60" stroke="#e09a2c" stroke-width="1.0"/>
<rect x="104.30" y="543.70" width="7.6" height="7.6" fill="white" stroke="#e09a2c" stroke-width="1.1"/>
<line x1="106.60" y1="546.30" x2="109.60" y2="548.70" stroke="#e09a2c" stroke-width="1.0"/>
<rect x="118.70" y="549.00" width="7.6" height="7.6" fill="white" stroke="#e09a2c" stroke-width="1.1"/>
<line x1="121.00" y1="551.60" x2="124.00" y2="554.00" stroke="#e09a2c" stroke-width="1.0"/>
<rect x="129.20" y="542.60" width="7.6" height="7.6" fill="white" stroke="#e09a2c" stroke-width="1.1"/>
<line x1="131.50" y1="545.20" x2="134.50" y2="547.60" stroke="#e09a2c" stroke-width="1.0"/>
<rect x="138.70" y="544.70" width="7.6" height="7.6" fill="white" stroke="#e09a2c" stroke-width="1.1"/>
<line x1="141.00" y1="547.30" x2="144.00" y2="549.70" stroke="#e09a2c" stroke-width="1.0"/>
<rect x="148.40" y="531.70" width="7.6" height="7.6" fill="white" stroke="#e09a2c" stroke-width="1.1"/>
<line x1="150.70" y1="534.30" x2="153.70" y2="536.70" stroke="#e09a2c" stroke-width="1.0"/>
<rect x="163.90" y="549.40" width="7.6" height="7.6" fill="white" stroke="#e09a2c" stroke-width="1.1"/>
<line x1="166.20" y1="552.00" x2="169.20" y2="554.40" stroke="#e09a2c" stroke-width="1.0"/>
<rect x="169.40" y="553.80" width="7.6" height="7.6" fill="white" stroke="#e09a2c" stroke-width="1.1"/>
<line x1="171.70" y1="556.40" x2="174.70" y2="558.80" stroke="#e09a2c" stroke-width="1.0"/>
<rect x="178.20" y="554.90" width="7.6" height="7.6" fill="white" stroke="#e09a2c" stroke-width="1.1"/>
<line x1="180.50" y1="557.50" x2="183.50" y2="559.90" stroke="#e09a2c" stroke-width="1.0"/>
<rect x="183.80" y="557.10" width="7.6" height="7.6" fill="white" stroke="#e09a2c" stroke-width="1.1"/>
<line x1="186.10" y1="559.70" x2="189.10" y2="562.10" stroke="#e09a2c" stroke-width="1.0"/>
<rect x="189.30" y="549.40" width="7.6" height="7.6" fill="white" stroke="#e09a2c" stroke-width="1.1"/>
<line x1="191.60" y1="552.00" x2="194.60" y2="554.40" stroke="#e09a2c" stroke-width="1.0"/>
<rect x="198.20" y="546.10" width="7.6" height="7.6" fill="white" stroke="#e09a2c" stroke-width="1.1"/>
<line x1="200.50" y1="548.70" x2="203.50" y2="551.10" stroke="#e09a2c" stroke-width="1.0"/>
<rect x="203.70" y="538.30" width="7.6" height="7.6" fill="white" stroke="#e09a2c" stroke-width="1.1"/>
<line x1="206.00" y1="540.90" x2="209.00" y2="543.30" stroke="#e09a2c" stroke-width="1.0"/>
<rect x="209.20" y="545.00" width="7.6" height="7.6" fill="white" stroke="#e09a2c" stroke-width="1.1"/>
<line x1="211.50" y1="547.60" x2="214.50" y2="550.00" stroke="#e09a2c" stroke-width="1.0"/>
<rect x="218.10" y="551.60" width="7.6" height="7.6" fill="white" stroke="#e09a2c" stroke-width="1.1"/>
<line x1="220.40" y1="554.20" x2="223.40" y2="556.60" stroke="#e09a2c" stroke-width="1.0"/>
<rect x="223.60" y="546.10" width="7.6" height="7.6" fill="white" stroke="#e09a2c" stroke-width="1.1"/>
<line x1="225.90" y1="548.70" x2="228.90" y2="551.10" stroke="#e09a2c" stroke-width="1.0"/>
<rect x="229.10" y="553.80" width="7.6" height="7.6" fill="white" stroke="#e09a2c" stroke-width="1.1"/>
<line x1="231.40" y1="556.40" x2="234.40" y2="558.80" stroke="#e09a2c" stroke-width="1.0"/>
<rect x="238.00" y="557.10" width="7.6" height="7.6" fill="white" stroke="#e09a2c" stroke-width="1.1"/>
<line x1="240.30" y1="559.70" x2="243.30" y2="562.10" stroke="#e09a2c" stroke-width="1.0"/>
<rect x="243.50" y="543.90" width="7.6" height="7.6" fill="white" stroke="#e09a2c" stroke-width="1.1"/>
<line x1="245.80" y1="546.50" x2="248.80" y2="548.90" stroke="#e09a2c" stroke-width="1.0"/>
<circle cx="67.50" cy="624.60" r="4.0" fill="#284682" stroke="none" stroke-width="1.1"/>
<circle cx="73.80" cy="620.40" r="4.0" fill="#284682" stroke="none" stroke-width="1.1"/>
<circle cx="82.30" cy="599.90" r="4.0" fill="#284682" stroke="none" stroke-width="1.1"/>
<circle cx="90.70" cy="594.40" r="4.0" fill="#284682" stroke="none" stroke-width="1.1"/>
<circle cx="102.40" cy="600.30" r="4.0" fill="#284682" stroke="none" stroke-width="1.1"/>
<circle cx="108.10" cy="606.70" r="4.0" fill="#284682" stroke="none" stroke-width="1.1"/>
<circle cx="122.50" cy="623.60" r="4.0" fill="#284682" stroke="none" stroke-width="1.1"/>
<circle cx="126.70" cy="623.60" r="4.0" fill="#284682" stroke="none" stroke-width="1.1"/>
<circle cx="134.10" cy="621.50" r="4.0" fill="#284682" stroke="none" stroke-width="1.1"/>
<circle cx="142.50" cy="615.60" r="4.0" fill="#284682" stroke="none" stroke-width="1.1"/>
<circle cx="152.20" cy="612.90" r="4.0" fill="#284682" stroke="none" stroke-width="1.1"/>
<circle cx="168.80" cy="610.70" r="4.0" fill="#284682" stroke="none" stroke-width="1.1"/>
<circle cx="173.20" cy="612.90" r="4.0" fill="#284682" stroke="none" stroke-width="1.1"/>
<circle cx="182.00" cy="606.30" r="4.0" fill="#284682" stroke="none" stroke-width="1.1"/>
<circle cx="193.10" cy="597.40" r="4.0" fill="#284682" stroke="none" stroke-width="1.1"/>
<circle cx="199.70" cy="607.40" r="4.0" fill="#284682" stroke="none" stroke-width="1.1"/>
<circle cx="213.00" cy="609.60" r="4.0" fill="#284682" stroke="none" stroke-width="1.1"/>
<circle cx="227.40" cy="607.40" r="4.0" fill="#284682" stroke="none" stroke-width="1.1"/>
<circle cx="232.90" cy="611.80" r="4.0" fill="#284682" stroke="none" stroke-width="1.1"/>
<circle cx="247.30" cy="605.20" r="4.0" fill="#284682" stroke="none" stroke-width="1.1"/>
<rect x="44.50" y="529.70" width="8" height="8" fill="#2f6147" stroke="none" stroke-width="1"/>
<rect x="56.10" y="583.70" width="8" height="8" fill="#2f6147" stroke="none" stroke-width="1"/>
<rect x="58.20" y="591.00" width="8" height="8" fill="#2f6147" stroke="none" stroke-width="1"/>
<rect x="64.50" y="608.00" width="8" height="8" fill="#2f6147" stroke="none" stroke-width="1"/>
<rect x="69.80" y="595.30" width="8" height="8" fill="#2f6147" stroke="none" stroke-width="1"/>
<rect x="78.30" y="585.80" width="8" height="8" fill="#2f6147" stroke="none" stroke-width="1"/>
<rect x="86.70" y="575.20" width="8" height="8" fill="#2f6147" stroke="none" stroke-width="1"/>
<rect x="98.40" y="578.40" width="8" height="8" fill="#2f6147" stroke="none" stroke-width="1"/>
<rect x="104.70" y="582.60" width="8" height="8" fill="#2f6147" stroke="none" stroke-width="1"/>
<rect x="118.50" y="606.90" width="8" height="8" fill="#2f6147" stroke="none" stroke-width="1"/>
<rect x="120.60" y="613.30" width="8" height="8" fill="#2f6147" stroke="none" stroke-width="1"/>
<rect x="130.10" y="632.30" width="8" height="8" fill="#2f6147" stroke="none" stroke-width="1"/>
<rect x="138.20" y="623.30" width="8" height="8" fill="#2f6147" stroke="none" stroke-width="1"/>
<rect x="149.30" y="615.60" width="8" height="8" fill="#2f6147" stroke="none" stroke-width="1"/>
<rect x="149.30" y="606.70" width="8" height="8" fill="#2f6147" stroke="none" stroke-width="1"/>
<rect x="163.70" y="606.70" width="8" height="8" fill="#2f6147" stroke="none" stroke-width="1"/>
<rect x="178.00" y="600.10" width="8" height="8" fill="#2f6147" stroke="none" stroke-width="1"/>
<rect x="183.60" y="612.20" width="8" height="8" fill="#2f6147" stroke="none" stroke-width="1"/>
<rect x="189.10" y="599.00" width="8" height="8" fill="#2f6147" stroke="none" stroke-width="1"/>
<rect x="198.00" y="613.30" width="8" height="8" fill="#2f6147" stroke="none" stroke-width="1"/>
<rect x="203.50" y="601.20" width="8" height="8" fill="#2f6147" stroke="none" stroke-width="1"/>
<rect x="209.00" y="604.50" width="8" height="8" fill="#2f6147" stroke="none" stroke-width="1"/>
<rect x="217.90" y="606.70" width="8" height="8" fill="#2f6147" stroke="none" stroke-width="1"/>
<rect x="223.40" y="606.70" width="8" height="8" fill="#2f6147" stroke="none" stroke-width="1"/>
<rect x="228.90" y="611.10" width="8" height="8" fill="#2f6147" stroke="none" stroke-width="1"/>
<rect x="237.80" y="614.40" width="8" height="8" fill="#2f6147" stroke="none" stroke-width="1"/>
<rect x="243.30" y="592.30" width="8" height="8" fill="#2f6147" stroke="none" stroke-width="1"/>
<text class="th" x="139.37" y="576.70" font-size="8.9" fill="#231f20" textLength="26.79" lengthAdjust="spacingAndGlyphs">Ocular</text>
<text class="th" x="138.23" y="587.10" font-size="8.9" fill="#231f20" textLength="30.05" lengthAdjust="spacingAndGlyphs">disease</text>
<line x1="133.65" y1="593.10" x2="171.50" y2="593.10" stroke="#3a3a3a" stroke-width="1.3"/>
<line x1="133.65" y1="592.45" x2="133.65" y2="602.50" stroke="#3a3a3a" stroke-width="1.3"/>
<polygon points="176.9,593.1 170.6,590.2 170.6,596" fill="#3a3a3a"/>
<polygon points="133.65,608.2 130.8,601.5 136.5,601.5" fill="#3a3a3a"/>
<line x1="60.10" y1="470.10" x2="86.60" y2="470.10" stroke="#b5203f" stroke-width="1.3"/>
<circle cx="73.20" cy="470.10" r="3.6" fill="none" stroke="#b5203f" stroke-width="1.2"/>
<text class="th" x="89.97" y="473.20" font-size="9.2" fill="#231f20" textLength="32.36" lengthAdjust="spacingAndGlyphs">BM only</text>
<line x1="60.10" y1="484.00" x2="86.60" y2="484.00" stroke="#284682" stroke-width="1.3"/>
<circle cx="73.20" cy="484.00" r="4.4" fill="#284682" stroke="none" stroke-width="1.1"/>
<text class="th" x="89.94" y="486.90" font-size="9.2" fill="#231f20" textLength="30.75" lengthAdjust="spacingAndGlyphs">BM+Sp</text>
<line x1="133.20" y1="470.00" x2="158.50" y2="470.00" stroke="#e09a2c" stroke-width="1.3" stroke-dasharray="3,2.5"/>
<rect x="143.00" y="466.50" width="7" height="7" fill="white" stroke="#e09a2c" stroke-width="1.2"/>
<line x1="144.50" y1="470.00" x2="148.50" y2="470.00" stroke="#e09a2c" stroke-width="1.1"/>
<text class="th" x="163.07" y="473.00" font-size="9" fill="#231f20" textLength="72.64" lengthAdjust="spacingAndGlyphs">BAFF KO BM only</text>
<line x1="133.20" y1="483.50" x2="158.50" y2="483.50" stroke="#2f6147" stroke-width="1.3" stroke-dasharray="3,2.5"/>
<rect x="142.50" y="479.50" width="8" height="8" fill="#2f6147" stroke="none" stroke-width="1"/>
<text class="th" x="163.06" y="486.50" font-size="9" fill="#231f20" textLength="70.92" lengthAdjust="spacingAndGlyphs">BAFF KO BM+Sp</text>
<text class="bl" x="271.85" y="458.20" font-size="14.7" fill="#231f20" font-weight="bold" textLength="8.67" lengthAdjust="spacingAndGlyphs">F</text>
<line x1="311.40" y1="491.40" x2="311.40" y2="646.50" stroke="#231f20" stroke-width="1.5"/>
<line x1="307.80" y1="494.80" x2="311.40" y2="494.80" stroke="#231f20" stroke-width="1.5"/>
<text class="th" x="304.40" y="498.10" font-size="9.6" text-anchor="end" fill="#231f20">8</text>
<line x1="307.80" y1="532.73" x2="311.40" y2="532.73" stroke="#231f20" stroke-width="1.5"/>
<text class="th" x="304.40" y="536.03" font-size="9.6" text-anchor="end" fill="#231f20">6</text>
<line x1="307.80" y1="570.65" x2="311.40" y2="570.65" stroke="#231f20" stroke-width="1.5"/>
<text class="th" x="304.40" y="573.95" font-size="9.6" text-anchor="end" fill="#231f20">4</text>
<line x1="307.80" y1="608.58" x2="311.40" y2="608.58" stroke="#231f20" stroke-width="1.5"/>
<text class="th" x="304.40" y="611.88" font-size="9.6" text-anchor="end" fill="#231f20">2</text>
<line x1="307.80" y1="646.50" x2="311.40" y2="646.50" stroke="#231f20" stroke-width="1.5"/>
<text class="th" x="304.40" y="649.80" font-size="9.6" text-anchor="end" fill="#231f20">0</text>
<line x1="310.80" y1="646.50" x2="511.25" y2="646.50" stroke="#231f20" stroke-width="1.5"/>
<text class="th" x="293.30" y="609.03" font-size="11" fill="#231f20" textLength="80.42" lengthAdjust="spacingAndGlyphs" transform="rotate(-90 293.30 609.03)">Eye pathology score</text>
<line x1="336.25" y1="646.50" x2="336.25" y2="650.10" stroke="#231f20" stroke-width="1.5"/>
<line x1="386.00" y1="646.50" x2="386.00" y2="650.10" stroke="#231f20" stroke-width="1.5"/>
<line x1="435.75" y1="646.50" x2="435.75" y2="650.10" stroke="#231f20" stroke-width="1.5"/>
<line x1="485.75" y1="646.50" x2="485.75" y2="650.10" stroke="#231f20" stroke-width="1.5"/>
<text class="th" x="318.19" y="661.90" font-size="9.3" fill="#231f20" textLength="35.63" lengthAdjust="spacingAndGlyphs">BM only</text>
<text class="th" x="374.24" y="661.90" font-size="9.3" fill="#231f20" textLength="23.73" lengthAdjust="spacingAndGlyphs">BAFF</text>
<text class="th" x="378.11" y="673.80" font-size="9.3" fill="#231f20" textLength="15.60" lengthAdjust="spacingAndGlyphs">KO</text>
<text class="th" x="368.09" y="684.70" font-size="9.3" fill="#231f20" textLength="35.63" lengthAdjust="spacingAndGlyphs">BM only</text>
<text class="th" x="419.29" y="661.90" font-size="9.3" fill="#231f20" textLength="32.73" lengthAdjust="spacingAndGlyphs">BM+Sp</text>
<text class="th" x="473.63" y="661.90" font-size="9.3" fill="#231f20" textLength="24.04" lengthAdjust="spacingAndGlyphs">BAFF</text>
<text class="th" x="477.51" y="673.80" font-size="9.3" fill="#231f20" textLength="15.60" lengthAdjust="spacingAndGlyphs">KO</text>
<text class="th" x="469.00" y="684.70" font-size="9.3" fill="#231f20" textLength="32.31" lengthAdjust="spacingAndGlyphs">BM+Sp</text>
<rect x="320.00" y="634.50" width="32.25" height="12.00" fill="#d68d7e" stroke="none" stroke-width="1"/>
<line x1="336.25" y1="629.50" x2="336.25" y2="640.00" stroke="#b5203f" stroke-width="1.1"/>
<line x1="327.75" y1="629.50" x2="344.75" y2="629.50" stroke="#b5203f" stroke-width="1.1"/>
<line x1="327.75" y1="640.00" x2="344.75" y2="640.00" stroke="#b5203f" stroke-width="1.1"/>
<circle cx="336.25" cy="608.75" r="4.0" fill="none" stroke="#b5203f" stroke-width="1.2"/>
<circle cx="340.50" cy="618.00" r="4.0" fill="none" stroke="#b5203f" stroke-width="1.2"/>
<circle cx="331.75" cy="623.00" r="4.0" fill="none" stroke="#b5203f" stroke-width="1.2"/>
<circle cx="349.50" cy="632.00" r="4.0" fill="none" stroke="#b5203f" stroke-width="1.2"/>
<circle cx="323.75" cy="637.00" r="4.0" fill="none" stroke="#b5203f" stroke-width="1.2"/>
<circle cx="340.50" cy="637.00" r="4.0" fill="none" stroke="#b5203f" stroke-width="1.2"/>
<circle cx="331.75" cy="641.75" r="4.0" fill="none" stroke="#b5203f" stroke-width="1.2"/>
<circle cx="348.75" cy="641.75" r="4.0" fill="none" stroke="#b5203f" stroke-width="1.2"/>
<circle cx="323.75" cy="646.25" r="4.0" fill="none" stroke="#b5203f" stroke-width="1.2"/>
<circle cx="340.50" cy="646.25" r="4.0" fill="none" stroke="#b5203f" stroke-width="1.2"/>
<rect x="370.00" y="630.00" width="32.50" height="16.50" fill="#f1cd91" stroke="none" stroke-width="1"/>
<line x1="386.00" y1="625.00" x2="386.00" y2="635.00" stroke="#e09a2c" stroke-width="1.1"/>
<line x1="379.00" y1="625.00" x2="393.00" y2="625.00" stroke="#e09a2c" stroke-width="1.1"/>
<line x1="379.00" y1="635.00" x2="393.00" y2="635.00" stroke="#e09a2c" stroke-width="1.1"/>
<rect x="382.50" y="590.50" width="7.5" height="7.5" fill="none" stroke="#e09a2c" stroke-width="1.2"/>
<rect x="369.25" y="623.75" width="7.5" height="7.5" fill="none" stroke="#e09a2c" stroke-width="1.2"/>
<rect x="382.50" y="623.75" width="7.5" height="7.5" fill="none" stroke="#e09a2c" stroke-width="1.2"/>
<rect x="388.75" y="623.75" width="7.5" height="7.5" fill="none" stroke="#e09a2c" stroke-width="1.2"/>
<rect x="369.25" y="632.50" width="7.5" height="7.5" fill="none" stroke="#e09a2c" stroke-width="1.2"/>
<rect x="376.25" y="632.50" width="7.5" height="7.5" fill="none" stroke="#e09a2c" stroke-width="1.2"/>
<rect x="388.75" y="632.50" width="7.5" height="7.5" fill="none" stroke="#e09a2c" stroke-width="1.2"/>
<rect x="395.00" y="637.50" width="7.5" height="7.5" fill="none" stroke="#e09a2c" stroke-width="1.2"/>
<rect x="369.25" y="637.50" width="7.5" height="7.5" fill="none" stroke="#e09a2c" stroke-width="1.2"/>
<rect x="382.25" y="637.50" width="7.5" height="7.5" fill="none" stroke="#e09a2c" stroke-width="1.2"/>
<rect x="420.00" y="608.75" width="32.00" height="37.75" fill="#8d98c4" stroke="none" stroke-width="1"/>
<line x1="435.75" y1="598.75" x2="435.75" y2="616.25" stroke="#284682" stroke-width="1.2"/>
<line x1="427.75" y1="598.75" x2="443.75" y2="598.75" stroke="#284682" stroke-width="1.2"/>
<line x1="427.75" y1="616.25" x2="443.75" y2="616.25" stroke="#284682" stroke-width="1.2"/>
<circle cx="448.75" cy="584.50" r="4.0" fill="#284682" stroke="none" stroke-width="1.1"/>
<circle cx="435.75" cy="589.50" r="4.0" fill="#284682" stroke="none" stroke-width="1.1"/>
<circle cx="423.25" cy="613.25" r="4.0" fill="#284682" stroke="none" stroke-width="1.1"/>
<circle cx="435.75" cy="618.25" r="4.0" fill="#284682" stroke="none" stroke-width="1.1"/>
<circle cx="448.75" cy="618.25" r="4.0" fill="#284682" stroke="none" stroke-width="1.1"/>
<circle cx="435.75" cy="627.50" r="4.0" fill="#284682" stroke="none" stroke-width="1.1"/>
<circle cx="423.25" cy="632.50" r="4.0" fill="#284682" stroke="none" stroke-width="1.1"/>
<circle cx="448.75" cy="632.50" r="4.0" fill="#284682" stroke="none" stroke-width="1.1"/>
<circle cx="435.75" cy="551.75" r="4.0" fill="#284682" stroke="none" stroke-width="1.1"/>
<rect x="470.00" y="593.00" width="31.25" height="53.50" fill="#91a99a" stroke="none" stroke-width="1"/>
<line x1="485.75" y1="578.00" x2="485.75" y2="607.00" stroke="#53735f" stroke-width="1.2"/>
<line x1="477.75" y1="578.00" x2="493.75" y2="578.00" stroke="#53735f" stroke-width="1.2"/>
<line x1="477.75" y1="607.00" x2="493.75" y2="607.00" stroke="#53735f" stroke-width="1.2"/>
<rect x="474.00" y="528.50" width="8" height="8" fill="#2f6147" stroke="none" stroke-width="1"/>
<rect x="489.25" y="528.50" width="8" height="8" fill="#2f6147" stroke="none" stroke-width="1"/>
<rect x="474.00" y="565.50" width="8" height="8" fill="#2f6147" stroke="none" stroke-width="1"/>
<rect x="489.25" y="565.50" width="8" height="8" fill="#2f6147" stroke="none" stroke-width="1"/>
<rect x="474.00" y="604.75" width="8" height="8" fill="#2f6147" stroke="none" stroke-width="1"/>
<rect x="489.25" y="604.75" width="8" height="8" fill="#2f6147" stroke="none" stroke-width="1"/>
<rect x="481.75" y="623.50" width="8" height="8" fill="#2f6147" stroke="none" stroke-width="1"/>
<rect x="474.00" y="633.00" width="8" height="8" fill="#2f6147" stroke="none" stroke-width="1"/>
<rect x="489.25" y="633.00" width="8" height="8" fill="#2f6147" stroke="none" stroke-width="1"/>
<line x1="336.75" y1="585.00" x2="386.00" y2="585.00" stroke="#3a3a3a" stroke-width="1.3"/>
<text class="th" x="356.28" y="581.75" font-size="9.4" fill="#231f20" textLength="12.12" lengthAdjust="spacingAndGlyphs">NS</text>
<line x1="336.75" y1="542.50" x2="437.50" y2="542.50" stroke="#231f20" stroke-width="1.3"/>
<polygon points="387.12,536.10 387.62,537.42 389.03,537.48 387.92,538.36 388.30,539.72 387.12,538.94 385.95,539.72 386.33,538.36 385.22,537.48 386.63,537.42" fill="#231f20"/>
<line x1="384.25" y1="520.40" x2="485.40" y2="520.40" stroke="#231f20" stroke-width="1.3"/>
<polygon points="434.82,514.00 435.32,515.32 436.73,515.38 435.62,516.26 436.00,517.62 434.82,516.84 433.65,517.62 434.03,516.26 432.92,515.38 434.33,515.32" fill="#231f20"/>
<line x1="434.60" y1="500.50" x2="485.80" y2="500.50" stroke="#3a3a3a" stroke-width="1.3"/>
<text class="th" x="453.42" y="497.30" font-size="9.4" fill="#231f20" textLength="13.22" lengthAdjust="spacingAndGlyphs">NS</text>
<rect x="0.75" y="0.75" width="518.5" height="694.5" fill="none" stroke="#000" stroke-width="1.5"/>
</svg>
</body></html>
